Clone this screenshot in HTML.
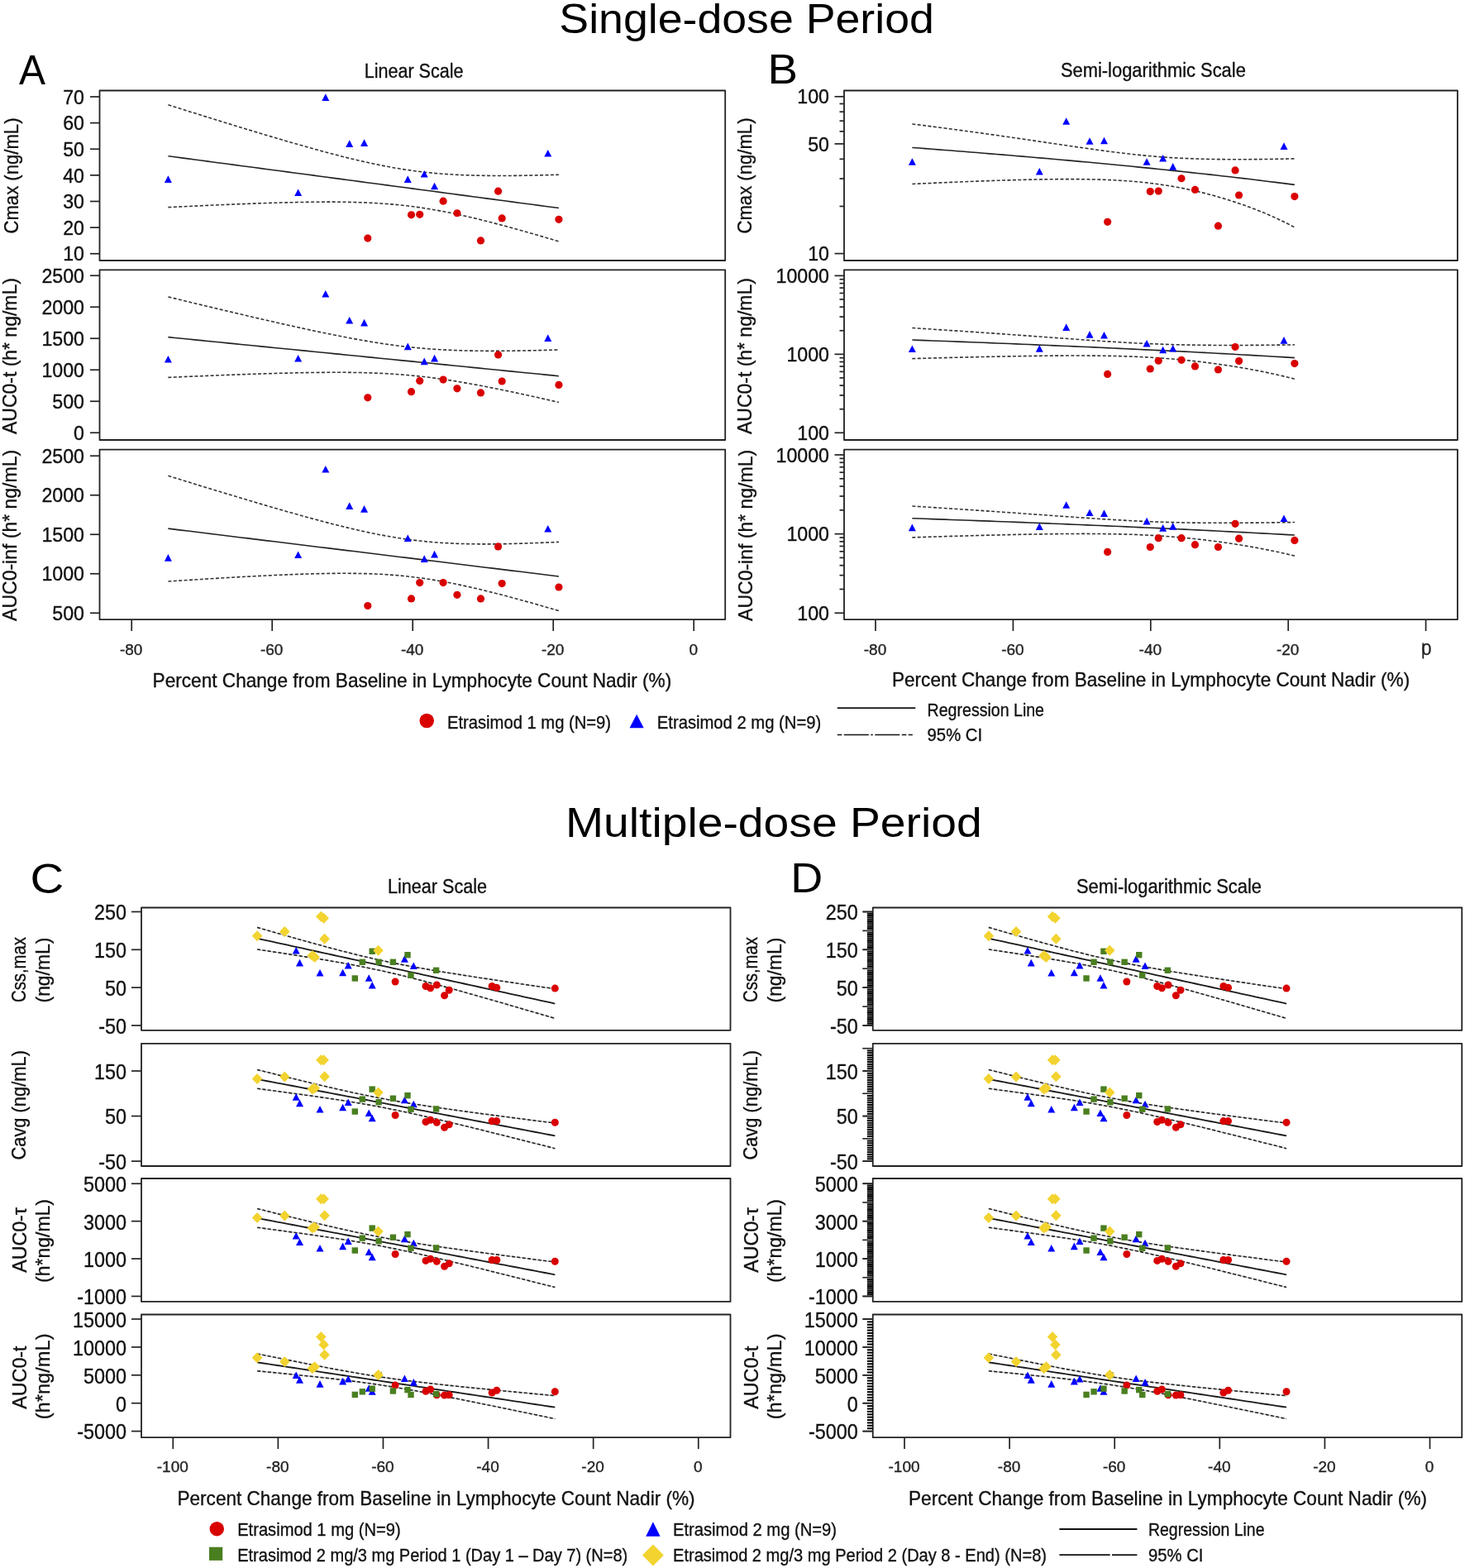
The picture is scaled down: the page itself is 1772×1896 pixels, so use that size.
<!DOCTYPE html>
<html><head><meta charset="utf-8"><title>Etrasimod exposure vs lymphocyte count</title>
<style>
html,body{margin:0;padding:0;background:#fff;}
body{width:1772px;height:1896px;overflow:hidden;}
svg{display:block;}
</style></head>
<body>
<svg width="1772" height="1896" viewBox="0 0 1772 1896" font-family="'Liberation Sans', Arial, sans-serif">
<rect width="1772" height="1896" fill="#fff"/>
<text x="903.1" y="39.9" font-size="50.5" text-anchor="middle" fill="#000" textLength="453.5" lengthAdjust="spacingAndGlyphs">Single-dose Period</text>
<text x="935.9" y="1012.4" font-size="50.5" text-anchor="middle" fill="#000" textLength="503.6" lengthAdjust="spacingAndGlyphs">Multiple-dose Period</text>
<text x="23.0" y="102.0" font-size="49.5" text-anchor="start" fill="#000" textLength="32.0" lengthAdjust="spacingAndGlyphs">A</text>
<text x="928.6" y="101.3" font-size="49.5" text-anchor="start" fill="#000" textLength="36.5" lengthAdjust="spacingAndGlyphs">B</text>
<text x="36.6" y="1080.0" font-size="49.5" text-anchor="start" fill="#000" textLength="40.8" lengthAdjust="spacingAndGlyphs">C</text>
<text x="956.3" y="1078.5" font-size="49.5" text-anchor="start" fill="#000" textLength="39.0" lengthAdjust="spacingAndGlyphs">D</text>
<text x="500.6" y="93.9" font-size="23" text-anchor="middle" fill="#111" textLength="119.8" lengthAdjust="spacingAndGlyphs" stroke="#111" stroke-width="0.35">Linear Scale</text>
<text x="1394.9" y="92.8" font-size="23" text-anchor="middle" fill="#111" textLength="223.9" lengthAdjust="spacingAndGlyphs" stroke="#111" stroke-width="0.35">Semi-logarithmic Scale</text>
<text x="529.0" y="1080.0" font-size="23" text-anchor="middle" fill="#111" textLength="120.0" lengthAdjust="spacingAndGlyphs" stroke="#111" stroke-width="0.35">Linear Scale</text>
<text x="1414.0" y="1080.0" font-size="23" text-anchor="middle" fill="#111" textLength="224.0" lengthAdjust="spacingAndGlyphs" stroke="#111" stroke-width="0.35">Semi-logarithmic Scale</text>
<rect x="120.50" y="109.50" width="756.70" height="205.50" fill="none" stroke="#222" stroke-width="1.8" stroke-linejoin="round"/>
<line x1="109.00" y1="117.00" x2="120.50" y2="117.00" stroke="#222" stroke-width="1.7"/>
<text x="102.0" y="125.6" font-size="24" text-anchor="end" fill="#111" textLength="25.8" lengthAdjust="spacingAndGlyphs" stroke="#111" stroke-width="0.35">70</text>
<line x1="109.00" y1="148.62" x2="120.50" y2="148.62" stroke="#222" stroke-width="1.7"/>
<text x="102.0" y="157.2" font-size="24" text-anchor="end" fill="#111" textLength="25.8" lengthAdjust="spacingAndGlyphs" stroke="#111" stroke-width="0.35">60</text>
<line x1="109.00" y1="180.25" x2="120.50" y2="180.25" stroke="#222" stroke-width="1.7"/>
<text x="102.0" y="188.8" font-size="24" text-anchor="end" fill="#111" textLength="25.8" lengthAdjust="spacingAndGlyphs" stroke="#111" stroke-width="0.35">50</text>
<line x1="109.00" y1="211.88" x2="120.50" y2="211.88" stroke="#222" stroke-width="1.7"/>
<text x="102.0" y="220.5" font-size="24" text-anchor="end" fill="#111" textLength="25.8" lengthAdjust="spacingAndGlyphs" stroke="#111" stroke-width="0.35">40</text>
<line x1="109.00" y1="243.50" x2="120.50" y2="243.50" stroke="#222" stroke-width="1.7"/>
<text x="102.0" y="252.1" font-size="24" text-anchor="end" fill="#111" textLength="25.8" lengthAdjust="spacingAndGlyphs" stroke="#111" stroke-width="0.35">30</text>
<line x1="109.00" y1="275.12" x2="120.50" y2="275.12" stroke="#222" stroke-width="1.7"/>
<text x="102.0" y="283.7" font-size="24" text-anchor="end" fill="#111" textLength="25.8" lengthAdjust="spacingAndGlyphs" stroke="#111" stroke-width="0.35">20</text>
<line x1="109.00" y1="306.75" x2="120.50" y2="306.75" stroke="#222" stroke-width="1.7"/>
<text x="102.0" y="315.4" font-size="24" text-anchor="end" fill="#111" textLength="25.8" lengthAdjust="spacingAndGlyphs" stroke="#111" stroke-width="0.35">10</text>
<polyline points="203.40,126.76 211.41,129.29 219.42,131.81 227.43,134.32 235.43,136.83 243.44,139.33 251.45,141.83 259.46,144.31 267.47,146.79 275.48,149.26 283.49,151.72 291.50,154.17 299.50,156.61 307.51,159.04 315.52,161.45 323.53,163.85 331.54,166.23 339.55,168.59 347.56,170.93 355.57,173.25 363.57,175.54 371.58,177.81 379.59,180.04 387.60,182.24 395.61,184.40 403.62,186.52 411.63,188.59 419.64,190.61 427.64,192.57 435.65,194.46 443.66,196.28 451.67,198.02 459.68,199.68 467.69,201.25 475.70,202.71 483.71,204.07 491.71,205.33 499.72,206.47 507.73,207.50 515.74,208.42 523.75,209.23 531.76,209.93 539.77,210.53 547.78,211.04 555.78,211.46 563.79,211.80 571.80,212.06 579.81,212.26 587.82,212.39 595.83,212.47 603.84,212.50 611.85,212.48 619.85,212.43 627.86,212.34 635.87,212.21 643.88,212.06 651.89,211.88 659.90,211.68 667.91,211.46 675.92,211.22" fill="none" stroke="#333" stroke-width="1.6" stroke-dasharray="4 2.4"/>
<polyline points="203.40,250.66 211.41,250.27 219.42,249.88 227.43,249.50 235.43,249.12 243.44,248.75 251.45,248.38 259.46,248.03 267.47,247.68 275.48,247.34 283.49,247.01 291.50,246.69 299.50,246.38 307.51,246.08 315.52,245.80 323.53,245.54 331.54,245.29 339.55,245.06 347.56,244.85 355.57,244.66 363.57,244.50 371.58,244.36 379.59,244.26 387.60,244.19 395.61,244.16 403.62,244.17 411.63,244.23 419.64,244.34 427.64,244.52 435.65,244.75 443.66,245.06 451.67,245.45 459.68,245.93 467.69,246.49 475.70,247.16 483.71,247.92 491.71,248.80 499.72,249.79 507.73,250.89 515.74,252.10 523.75,253.42 531.76,254.85 539.77,256.38 547.78,258.00 555.78,259.71 563.79,261.51 571.80,263.37 579.81,265.31 587.82,267.31 595.83,269.36 603.84,271.46 611.85,273.60 619.85,275.79 627.86,278.01 635.87,280.27 643.88,282.55 651.89,284.86 659.90,287.19 667.91,289.54 675.92,291.92" fill="none" stroke="#333" stroke-width="1.6" stroke-dasharray="4 2.4"/>
<polyline points="203.40,188.71 211.41,189.78 219.42,190.84 227.43,191.91 235.43,192.97 243.44,194.04 251.45,195.10 259.46,196.17 267.47,197.24 275.48,198.30 283.49,199.37 291.50,200.43 299.50,201.50 307.51,202.56 315.52,203.63 323.53,204.69 331.54,205.76 339.55,206.82 347.56,207.89 355.57,208.95 363.57,210.02 371.58,211.08 379.59,212.15 387.60,213.21 395.61,214.28 403.62,215.35 411.63,216.41 419.64,217.48 427.64,218.54 435.65,219.61 443.66,220.67 451.67,221.74 459.68,222.80 467.69,223.87 475.70,224.93 483.71,226.00 491.71,227.06 499.72,228.13 507.73,229.19 515.74,230.26 523.75,231.33 531.76,232.39 539.77,233.46 547.78,234.52 555.78,235.59 563.79,236.65 571.80,237.72 579.81,238.78 587.82,239.85 595.83,240.91 603.84,241.98 611.85,243.04 619.85,244.11 627.86,245.17 635.87,246.24 643.88,247.31 651.89,248.37 659.90,249.44 667.91,250.50 675.92,251.57" fill="none" stroke="#222" stroke-width="1.6"/>
<circle cx="444.80" cy="288.09" r="4.60" fill="#d90000"/>
<circle cx="497.50" cy="259.79" r="4.60" fill="#d90000"/>
<circle cx="507.70" cy="259.31" r="4.60" fill="#d90000"/>
<circle cx="536.09" cy="243.18" r="4.60" fill="#d90000"/>
<circle cx="552.92" cy="257.73" r="4.60" fill="#d90000"/>
<circle cx="581.48" cy="290.94" r="4.60" fill="#d90000"/>
<circle cx="602.56" cy="231.17" r="4.60" fill="#d90000"/>
<circle cx="607.15" cy="263.90" r="4.60" fill="#d90000"/>
<circle cx="675.92" cy="265.32" r="4.60" fill="#d90000"/>
<polygon points="203.40,212.32 207.90,220.92 198.90,220.92" fill="#0000ff"/>
<polygon points="360.65,228.45 365.15,237.05 356.15,237.05" fill="#0000ff"/>
<polygon points="393.80,113.33 398.30,121.93 389.30,121.93" fill="#0000ff"/>
<polygon points="422.70,169.31 427.20,177.91 418.20,177.91" fill="#0000ff"/>
<polygon points="440.55,168.36 445.05,176.96 436.05,176.96" fill="#0000ff"/>
<polygon points="493.25,212.32 497.75,220.92 488.75,220.92" fill="#0000ff"/>
<polygon points="513.23,205.99 517.73,214.59 508.73,214.59" fill="#0000ff"/>
<polygon points="525.55,220.70 530.05,229.30 521.05,229.30" fill="#0000ff"/>
<polygon points="662.74,181.01 667.24,189.61 658.24,189.61" fill="#0000ff"/>
<text transform="translate(22.0,212.5) rotate(-90)" x="0" y="0" font-size="24" text-anchor="middle" fill="#111" textLength="140.0" lengthAdjust="spacingAndGlyphs" stroke="#111" stroke-width="0.35">Cmax (ng/mL)</text>
<rect x="1021.00" y="109.50" width="742.00" height="205.50" fill="none" stroke="#222" stroke-width="1.8" stroke-linejoin="round"/>
<line x1="1009.50" y1="306.60" x2="1021.00" y2="306.60" stroke="#222" stroke-width="1.7"/>
<line x1="1015.50" y1="249.46" x2="1021.00" y2="249.46" stroke="#222" stroke-width="1.7"/>
<line x1="1015.50" y1="216.04" x2="1021.00" y2="216.04" stroke="#222" stroke-width="1.7"/>
<line x1="1015.50" y1="192.33" x2="1021.00" y2="192.33" stroke="#222" stroke-width="1.7"/>
<line x1="1009.50" y1="173.94" x2="1021.00" y2="173.94" stroke="#222" stroke-width="1.7"/>
<line x1="1015.50" y1="158.91" x2="1021.00" y2="158.91" stroke="#222" stroke-width="1.7"/>
<line x1="1015.50" y1="146.20" x2="1021.00" y2="146.20" stroke="#222" stroke-width="1.7"/>
<line x1="1015.50" y1="135.19" x2="1021.00" y2="135.19" stroke="#222" stroke-width="1.7"/>
<line x1="1015.50" y1="125.48" x2="1021.00" y2="125.48" stroke="#222" stroke-width="1.7"/>
<line x1="1009.50" y1="116.80" x2="1021.00" y2="116.80" stroke="#222" stroke-width="1.7"/>
<text x="1003.0" y="125.4" font-size="24" text-anchor="end" fill="#111" textLength="38.7" lengthAdjust="spacingAndGlyphs" stroke="#111" stroke-width="0.35">100</text>
<text x="1003.0" y="182.5" font-size="24" text-anchor="end" fill="#111" textLength="25.8" lengthAdjust="spacingAndGlyphs" stroke="#111" stroke-width="0.35">50</text>
<text x="1003.0" y="315.2" font-size="24" text-anchor="end" fill="#111" textLength="25.8" lengthAdjust="spacingAndGlyphs" stroke="#111" stroke-width="0.35">10</text>
<polyline points="1103.36,149.92 1111.20,150.91 1119.04,151.91 1126.88,152.92 1134.72,153.94 1142.56,154.97 1150.40,156.01 1158.24,157.06 1166.08,158.11 1173.92,159.18 1181.76,160.26 1189.59,161.35 1197.43,162.45 1205.27,163.56 1213.11,164.68 1220.95,165.80 1228.79,166.93 1236.63,168.07 1244.47,169.21 1252.31,170.36 1260.15,171.52 1267.99,172.67 1275.82,173.83 1283.66,174.98 1291.50,176.13 1299.34,177.27 1307.18,178.40 1315.02,179.52 1322.86,180.62 1330.70,181.70 1338.54,182.75 1346.38,183.76 1354.22,184.74 1362.06,185.68 1369.89,186.56 1377.73,187.40 1385.57,188.17 1393.41,188.88 1401.25,189.53 1409.09,190.11 1416.93,190.62 1424.77,191.07 1432.61,191.46 1440.45,191.79 1448.29,192.06 1456.12,192.28 1463.96,192.45 1471.80,192.58 1479.64,192.67 1487.48,192.72 1495.32,192.74 1503.16,192.73 1511.00,192.69 1518.84,192.63 1526.68,192.55 1534.52,192.45 1542.36,192.33 1550.19,192.20 1558.03,192.06 1565.87,191.90" fill="none" stroke="#333" stroke-width="1.6" stroke-dasharray="4 2.4"/>
<polyline points="1103.36,222.51 1111.20,222.14 1119.04,221.78 1126.88,221.42 1134.72,221.07 1142.56,220.73 1150.40,220.40 1158.24,220.07 1166.08,219.75 1173.92,219.45 1181.76,219.15 1189.59,218.86 1197.43,218.58 1205.27,218.32 1213.11,218.07 1220.95,217.83 1228.79,217.61 1236.63,217.41 1244.47,217.22 1252.31,217.06 1260.15,216.91 1267.99,216.79 1275.82,216.70 1283.66,216.64 1291.50,216.62 1299.34,216.63 1307.18,216.68 1315.02,216.78 1322.86,216.93 1330.70,217.14 1338.54,217.41 1346.38,217.76 1354.22,218.18 1362.06,218.68 1369.89,219.28 1377.73,219.98 1385.57,220.78 1393.41,221.70 1401.25,222.73 1409.09,223.88 1416.93,225.15 1424.77,226.55 1432.61,228.07 1440.45,229.72 1448.29,231.49 1456.12,233.39 1463.96,235.42 1471.80,237.57 1479.64,239.86 1487.48,242.27 1495.32,244.82 1503.16,247.51 1511.00,250.34 1518.84,253.31 1526.68,256.45 1534.52,259.76 1542.36,263.24 1550.19,266.91 1558.03,270.79 1565.87,274.90" fill="none" stroke="#333" stroke-width="1.6" stroke-dasharray="4 2.4"/>
<polyline points="1103.36,178.47 1111.20,179.06 1119.04,179.65 1126.88,180.25 1134.72,180.85 1142.56,181.46 1150.40,182.07 1158.24,182.68 1166.08,183.30 1173.92,183.93 1181.76,184.56 1189.59,185.19 1197.43,185.83 1205.27,186.47 1213.11,187.12 1220.95,187.78 1228.79,188.44 1236.63,189.10 1244.47,189.77 1252.31,190.45 1260.15,191.13 1267.99,191.82 1275.82,192.51 1283.66,193.21 1291.50,193.91 1299.34,194.62 1307.18,195.34 1315.02,196.06 1322.86,196.79 1330.70,197.53 1338.54,198.27 1346.38,199.02 1354.22,199.78 1362.06,200.54 1369.89,201.31 1377.73,202.09 1385.57,202.87 1393.41,203.67 1401.25,204.47 1409.09,205.27 1416.93,206.09 1424.77,206.92 1432.61,207.75 1440.45,208.59 1448.29,209.44 1456.12,210.30 1463.96,211.17 1471.80,212.04 1479.64,212.93 1487.48,213.83 1495.32,214.73 1503.16,215.65 1511.00,216.57 1518.84,217.51 1526.68,218.46 1534.52,219.42 1542.36,220.39 1550.19,221.37 1558.03,222.36 1565.87,223.37" fill="none" stroke="#222" stroke-width="1.6"/>
<circle cx="1339.65" cy="268.37" r="4.60" fill="#d90000"/>
<circle cx="1391.24" cy="231.57" r="4.60" fill="#d90000"/>
<circle cx="1401.22" cy="231.07" r="4.60" fill="#d90000"/>
<circle cx="1429.01" cy="215.77" r="4.60" fill="#d90000"/>
<circle cx="1445.48" cy="229.44" r="4.60" fill="#d90000"/>
<circle cx="1473.44" cy="273.18" r="4.60" fill="#d90000"/>
<circle cx="1494.07" cy="205.97" r="4.60" fill="#d90000"/>
<circle cx="1498.56" cy="236.00" r="4.60" fill="#d90000"/>
<circle cx="1565.87" cy="237.59" r="4.60" fill="#d90000"/>
<polygon points="1103.36,191.18 1107.86,199.78 1098.86,199.78" fill="#0000ff"/>
<polygon points="1257.28,202.89 1261.78,211.49 1252.78,211.49" fill="#0000ff"/>
<polygon points="1289.73,142.14 1294.23,150.74 1285.23,150.74" fill="#0000ff"/>
<polygon points="1318.02,166.24 1322.52,174.84 1313.52,174.84" fill="#0000ff"/>
<polygon points="1335.49,165.77 1339.99,174.37 1330.99,174.37" fill="#0000ff"/>
<polygon points="1387.08,191.18 1391.58,199.78 1382.58,199.78" fill="#0000ff"/>
<polygon points="1406.63,187.01 1411.13,195.61 1402.13,195.61" fill="#0000ff"/>
<polygon points="1418.69,197.06 1423.19,205.66 1414.19,205.66" fill="#0000ff"/>
<polygon points="1552.98,172.32 1557.48,180.92 1548.48,180.92" fill="#0000ff"/>
<text transform="translate(908.5,212.5) rotate(-90)" x="0" y="0" font-size="24" text-anchor="middle" fill="#111" textLength="140.0" lengthAdjust="spacingAndGlyphs" stroke="#111" stroke-width="0.35">Cmax (ng/mL)</text>
<rect x="120.50" y="326.30" width="756.70" height="205.70" fill="none" stroke="#222" stroke-width="1.8" stroke-linejoin="round"/>
<line x1="109.00" y1="333.25" x2="120.50" y2="333.25" stroke="#222" stroke-width="1.7"/>
<text x="102.0" y="341.9" font-size="24" text-anchor="end" fill="#111" textLength="51.6" lengthAdjust="spacingAndGlyphs" stroke="#111" stroke-width="0.35">2500</text>
<line x1="109.00" y1="371.25" x2="120.50" y2="371.25" stroke="#222" stroke-width="1.7"/>
<text x="102.0" y="379.9" font-size="24" text-anchor="end" fill="#111" textLength="51.6" lengthAdjust="spacingAndGlyphs" stroke="#111" stroke-width="0.35">2000</text>
<line x1="109.00" y1="409.25" x2="120.50" y2="409.25" stroke="#222" stroke-width="1.7"/>
<text x="102.0" y="417.9" font-size="24" text-anchor="end" fill="#111" textLength="51.6" lengthAdjust="spacingAndGlyphs" stroke="#111" stroke-width="0.35">1500</text>
<line x1="109.00" y1="447.25" x2="120.50" y2="447.25" stroke="#222" stroke-width="1.7"/>
<text x="102.0" y="455.9" font-size="24" text-anchor="end" fill="#111" textLength="51.6" lengthAdjust="spacingAndGlyphs" stroke="#111" stroke-width="0.35">1000</text>
<line x1="109.00" y1="485.25" x2="120.50" y2="485.25" stroke="#222" stroke-width="1.7"/>
<text x="102.0" y="493.9" font-size="24" text-anchor="end" fill="#111" textLength="38.7" lengthAdjust="spacingAndGlyphs" stroke="#111" stroke-width="0.35">500</text>
<line x1="109.00" y1="523.25" x2="120.50" y2="523.25" stroke="#222" stroke-width="1.7"/>
<text x="102.0" y="531.9" font-size="24" text-anchor="end" fill="#111" textLength="12.9" lengthAdjust="spacingAndGlyphs" stroke="#111" stroke-width="0.35">0</text>
<polyline points="203.40,358.95 211.41,360.89 219.42,362.84 227.43,364.77 235.43,366.70 243.44,368.63 251.45,370.55 259.46,372.47 267.47,374.38 275.48,376.28 283.49,378.18 291.50,380.06 299.50,381.94 307.51,383.81 315.52,385.66 323.53,387.51 331.54,389.34 339.55,391.15 347.56,392.96 355.57,394.74 363.57,396.50 371.58,398.24 379.59,399.96 387.60,401.65 395.61,403.31 403.62,404.93 411.63,406.52 419.64,408.07 427.64,409.57 435.65,411.01 443.66,412.41 451.67,413.74 459.68,415.00 467.69,416.19 475.70,417.30 483.71,418.33 491.71,419.28 499.72,420.13 507.73,420.90 515.74,421.59 523.75,422.18 531.76,422.69 539.77,423.13 547.78,423.48 555.78,423.77 563.79,424.00 571.80,424.17 579.81,424.28 587.82,424.34 595.83,424.37 603.84,424.35 611.85,424.30 619.85,424.21 627.86,424.10 635.87,423.96 643.88,423.80 651.89,423.62 659.90,423.42 667.91,423.20 675.92,422.97" fill="none" stroke="#333" stroke-width="1.6" stroke-dasharray="4 2.4"/>
<polyline points="203.40,456.40 211.41,456.05 219.42,455.70 227.43,455.36 235.43,455.02 243.44,454.69 251.45,454.36 259.46,454.04 267.47,453.72 275.48,453.42 283.49,453.12 291.50,452.82 299.50,452.54 307.51,452.27 315.52,452.01 323.53,451.76 331.54,451.52 339.55,451.30 347.56,451.09 355.57,450.90 363.57,450.73 371.58,450.59 379.59,450.47 387.60,450.37 395.61,450.31 403.62,450.28 411.63,450.28 419.64,450.33 427.64,450.43 435.65,450.57 443.66,450.77 451.67,451.04 459.68,451.37 467.69,451.77 475.70,452.26 483.71,452.82 491.71,453.47 499.72,454.21 507.73,455.03 515.74,455.94 523.75,456.94 531.76,458.03 539.77,459.19 547.78,460.42 555.78,461.73 563.79,463.10 571.80,464.52 579.81,466.01 587.82,467.54 595.83,469.11 603.84,470.72 611.85,472.37 619.85,474.04 627.86,475.75 635.87,477.48 643.88,479.24 651.89,481.01 659.90,482.81 667.91,484.62 675.92,486.45" fill="none" stroke="#333" stroke-width="1.6" stroke-dasharray="4 2.4"/>
<polyline points="203.40,407.67 211.41,408.47 219.42,409.27 227.43,410.07 235.43,410.86 243.44,411.66 251.45,412.46 259.46,413.25 267.47,414.05 275.48,414.85 283.49,415.65 291.50,416.44 299.50,417.24 307.51,418.04 315.52,418.83 323.53,419.63 331.54,420.43 339.55,421.23 347.56,422.02 355.57,422.82 363.57,423.62 371.58,424.41 379.59,425.21 387.60,426.01 395.61,426.81 403.62,427.60 411.63,428.40 419.64,429.20 427.64,430.00 435.65,430.79 443.66,431.59 451.67,432.39 459.68,433.18 467.69,433.98 475.70,434.78 483.71,435.58 491.71,436.37 499.72,437.17 507.73,437.97 515.74,438.76 523.75,439.56 531.76,440.36 539.77,441.16 547.78,441.95 555.78,442.75 563.79,443.55 571.80,444.35 579.81,445.14 587.82,445.94 595.83,446.74 603.84,447.53 611.85,448.33 619.85,449.13 627.86,449.93 635.87,450.72 643.88,451.52 651.89,452.32 659.90,453.11 667.91,453.91 675.92,454.71" fill="none" stroke="#222" stroke-width="1.6"/>
<circle cx="444.80" cy="480.84" r="4.60" fill="#d90000"/>
<circle cx="497.50" cy="473.70" r="4.60" fill="#d90000"/>
<circle cx="507.70" cy="460.47" r="4.60" fill="#d90000"/>
<circle cx="536.09" cy="459.11" r="4.60" fill="#d90000"/>
<circle cx="552.92" cy="469.82" r="4.60" fill="#d90000"/>
<circle cx="581.48" cy="474.91" r="4.60" fill="#d90000"/>
<circle cx="602.56" cy="429.01" r="4.60" fill="#d90000"/>
<circle cx="607.15" cy="461.01" r="4.60" fill="#d90000"/>
<circle cx="675.92" cy="465.41" r="4.60" fill="#d90000"/>
<polygon points="203.40,429.88 207.90,438.48 198.90,438.48" fill="#0000ff"/>
<polygon points="360.65,428.89 365.15,437.49 356.15,437.49" fill="#0000ff"/>
<polygon points="393.80,350.91 398.30,359.51 389.30,359.51" fill="#0000ff"/>
<polygon points="422.70,382.91 427.20,391.51 418.20,391.51" fill="#0000ff"/>
<polygon points="440.55,385.87 445.05,394.47 436.05,394.47" fill="#0000ff"/>
<polygon points="493.25,414.60 497.75,423.20 488.75,423.20" fill="#0000ff"/>
<polygon points="513.23,432.54 517.73,441.14 508.73,441.14" fill="#0000ff"/>
<polygon points="525.55,428.81 530.05,437.41 521.05,437.41" fill="#0000ff"/>
<polygon points="662.74,404.34 667.24,412.94 658.24,412.94" fill="#0000ff"/>
<text transform="translate(20.0,430.6) rotate(-90)" x="0" y="0" font-size="24" text-anchor="middle" fill="#111" textLength="188.8" lengthAdjust="spacingAndGlyphs" stroke="#111" stroke-width="0.35">AUC0-t (h* ng/mL)</text>
<rect x="1021.00" y="326.30" width="742.00" height="205.70" fill="none" stroke="#222" stroke-width="1.8" stroke-linejoin="round"/>
<line x1="1009.50" y1="523.30" x2="1021.00" y2="523.30" stroke="#222" stroke-width="1.7"/>
<line x1="1015.50" y1="494.72" x2="1021.00" y2="494.72" stroke="#222" stroke-width="1.7"/>
<line x1="1015.50" y1="478.00" x2="1021.00" y2="478.00" stroke="#222" stroke-width="1.7"/>
<line x1="1015.50" y1="466.13" x2="1021.00" y2="466.13" stroke="#222" stroke-width="1.7"/>
<line x1="1015.50" y1="456.93" x2="1021.00" y2="456.93" stroke="#222" stroke-width="1.7"/>
<line x1="1015.50" y1="449.41" x2="1021.00" y2="449.41" stroke="#222" stroke-width="1.7"/>
<line x1="1015.50" y1="443.06" x2="1021.00" y2="443.06" stroke="#222" stroke-width="1.7"/>
<line x1="1015.50" y1="437.55" x2="1021.00" y2="437.55" stroke="#222" stroke-width="1.7"/>
<line x1="1015.50" y1="432.69" x2="1021.00" y2="432.69" stroke="#222" stroke-width="1.7"/>
<line x1="1009.50" y1="428.35" x2="1021.00" y2="428.35" stroke="#222" stroke-width="1.7"/>
<line x1="1015.50" y1="399.77" x2="1021.00" y2="399.77" stroke="#222" stroke-width="1.7"/>
<line x1="1015.50" y1="383.05" x2="1021.00" y2="383.05" stroke="#222" stroke-width="1.7"/>
<line x1="1015.50" y1="371.18" x2="1021.00" y2="371.18" stroke="#222" stroke-width="1.7"/>
<line x1="1015.50" y1="361.98" x2="1021.00" y2="361.98" stroke="#222" stroke-width="1.7"/>
<line x1="1015.50" y1="354.46" x2="1021.00" y2="354.46" stroke="#222" stroke-width="1.7"/>
<line x1="1015.50" y1="348.11" x2="1021.00" y2="348.11" stroke="#222" stroke-width="1.7"/>
<line x1="1015.50" y1="342.60" x2="1021.00" y2="342.60" stroke="#222" stroke-width="1.7"/>
<line x1="1015.50" y1="337.74" x2="1021.00" y2="337.74" stroke="#222" stroke-width="1.7"/>
<line x1="1009.50" y1="333.40" x2="1021.00" y2="333.40" stroke="#222" stroke-width="1.7"/>
<text x="1003.0" y="342.0" font-size="24" text-anchor="end" fill="#111" textLength="64.5" lengthAdjust="spacingAndGlyphs" stroke="#111" stroke-width="0.35">10000</text>
<text x="1003.0" y="436.9" font-size="24" text-anchor="end" fill="#111" textLength="51.6" lengthAdjust="spacingAndGlyphs" stroke="#111" stroke-width="0.35">1000</text>
<text x="1003.0" y="531.9" font-size="24" text-anchor="end" fill="#111" textLength="38.7" lengthAdjust="spacingAndGlyphs" stroke="#111" stroke-width="0.35">100</text>
<polyline points="1103.36,396.56 1111.20,397.05 1119.04,397.55 1126.88,398.05 1134.72,398.55 1142.56,399.06 1150.40,399.58 1158.24,400.10 1166.08,400.62 1173.92,401.16 1181.76,401.69 1189.59,402.23 1197.43,402.77 1205.27,403.32 1213.11,403.88 1220.95,404.43 1228.79,404.99 1236.63,405.55 1244.47,406.12 1252.31,406.69 1260.15,407.26 1267.99,407.83 1275.82,408.40 1283.66,408.97 1291.50,409.53 1299.34,410.10 1307.18,410.65 1315.02,411.20 1322.86,411.74 1330.70,412.27 1338.54,412.79 1346.38,413.29 1354.22,413.76 1362.06,414.22 1369.89,414.65 1377.73,415.05 1385.57,415.43 1393.41,415.77 1401.25,416.08 1409.09,416.35 1416.93,416.59 1424.77,416.80 1432.61,416.98 1440.45,417.13 1448.29,417.25 1456.12,417.34 1463.96,417.41 1471.80,417.46 1479.64,417.49 1487.48,417.50 1495.32,417.49 1503.16,417.47 1511.00,417.43 1518.84,417.38 1526.68,417.33 1534.52,417.26 1542.36,417.19 1550.19,417.10 1558.03,417.01 1565.87,416.92" fill="none" stroke="#333" stroke-width="1.6" stroke-dasharray="4 2.4"/>
<polyline points="1103.36,433.64 1111.20,433.42 1119.04,433.21 1126.88,433.00 1134.72,432.80 1142.56,432.60 1150.40,432.40 1158.24,432.21 1166.08,432.02 1173.92,431.84 1181.76,431.66 1189.59,431.49 1197.43,431.33 1205.27,431.17 1213.11,431.02 1220.95,430.87 1228.79,430.73 1236.63,430.61 1244.47,430.49 1252.31,430.38 1260.15,430.29 1267.99,430.20 1275.82,430.13 1283.66,430.08 1291.50,430.04 1299.34,430.03 1307.18,430.03 1315.02,430.06 1322.86,430.11 1330.70,430.19 1338.54,430.31 1346.38,430.46 1354.22,430.65 1362.06,430.88 1369.89,431.16 1377.73,431.49 1385.57,431.87 1393.41,432.31 1401.25,432.80 1409.09,433.36 1416.93,433.98 1424.77,434.65 1432.61,435.40 1440.45,436.20 1448.29,437.06 1456.12,437.99 1463.96,438.98 1471.80,440.04 1479.64,441.15 1487.48,442.33 1495.32,443.58 1503.16,444.89 1511.00,446.28 1518.84,447.73 1526.68,449.26 1534.52,450.88 1542.36,452.58 1550.19,454.36 1558.03,456.25 1565.87,458.25" fill="none" stroke="#333" stroke-width="1.6" stroke-dasharray="4 2.4"/>
<polyline points="1103.36,411.06 1111.20,411.35 1119.04,411.64 1126.88,411.93 1134.72,412.22 1142.56,412.51 1150.40,412.81 1158.24,413.10 1166.08,413.40 1173.92,413.71 1181.76,414.01 1189.59,414.32 1197.43,414.63 1205.27,414.94 1213.11,415.25 1220.95,415.57 1228.79,415.89 1236.63,416.21 1244.47,416.53 1252.31,416.86 1260.15,417.19 1267.99,417.52 1275.82,417.85 1283.66,418.19 1291.50,418.53 1299.34,418.87 1307.18,419.21 1315.02,419.56 1322.86,419.91 1330.70,420.27 1338.54,420.62 1346.38,420.98 1354.22,421.35 1362.06,421.71 1369.89,422.08 1377.73,422.46 1385.57,422.83 1393.41,423.21 1401.25,423.60 1409.09,423.99 1416.93,424.38 1424.77,424.77 1432.61,425.17 1440.45,425.57 1448.29,425.98 1456.12,426.39 1463.96,426.80 1471.80,427.22 1479.64,427.64 1487.48,428.07 1495.32,428.50 1503.16,428.94 1511.00,429.38 1518.84,429.83 1526.68,430.28 1534.52,430.73 1542.36,431.20 1550.19,431.66 1558.03,432.13 1565.87,432.61" fill="none" stroke="#222" stroke-width="1.6"/>
<circle cx="1339.65" cy="452.41" r="4.60" fill="#d90000"/>
<circle cx="1391.24" cy="445.99" r="4.60" fill="#d90000"/>
<circle cx="1401.22" cy="436.23" r="4.60" fill="#d90000"/>
<circle cx="1429.01" cy="435.34" r="4.60" fill="#d90000"/>
<circle cx="1445.48" cy="442.88" r="4.60" fill="#d90000"/>
<circle cx="1473.44" cy="447.01" r="4.60" fill="#d90000"/>
<circle cx="1494.07" cy="419.48" r="4.60" fill="#d90000"/>
<circle cx="1498.56" cy="436.58" r="4.60" fill="#d90000"/>
<circle cx="1565.87" cy="439.61" r="4.60" fill="#d90000"/>
<polygon points="1103.36,417.51 1107.86,426.11 1098.86,426.11" fill="#0000ff"/>
<polygon points="1257.28,417.05 1261.78,425.65 1252.78,425.65" fill="#0000ff"/>
<polygon points="1289.73,391.33 1294.23,399.93 1285.23,399.93" fill="#0000ff"/>
<polygon points="1318.02,400.04 1322.52,408.64 1313.52,408.64" fill="#0000ff"/>
<polygon points="1335.49,400.95 1339.99,409.55 1330.99,409.55" fill="#0000ff"/>
<polygon points="1387.08,410.98 1391.58,419.58 1382.58,419.58" fill="#0000ff"/>
<polygon points="1406.63,418.76 1411.13,427.36 1402.13,427.36" fill="#0000ff"/>
<polygon points="1418.69,417.02 1423.19,425.62 1414.19,425.62" fill="#0000ff"/>
<polygon points="1552.98,407.11 1557.48,415.71 1548.48,415.71" fill="#0000ff"/>
<text transform="translate(908.5,430.6) rotate(-90)" x="0" y="0" font-size="24" text-anchor="middle" fill="#111" textLength="188.8" lengthAdjust="spacingAndGlyphs" stroke="#111" stroke-width="0.35">AUC0-t (h* ng/mL)</text>
<rect x="120.50" y="543.60" width="756.70" height="205.50" fill="none" stroke="#222" stroke-width="1.8" stroke-linejoin="round"/>
<line x1="109.00" y1="551.25" x2="120.50" y2="551.25" stroke="#222" stroke-width="1.7"/>
<text x="102.0" y="559.9" font-size="24" text-anchor="end" fill="#111" textLength="51.6" lengthAdjust="spacingAndGlyphs" stroke="#111" stroke-width="0.35">2500</text>
<line x1="109.00" y1="598.75" x2="120.50" y2="598.75" stroke="#222" stroke-width="1.7"/>
<text x="102.0" y="607.4" font-size="24" text-anchor="end" fill="#111" textLength="51.6" lengthAdjust="spacingAndGlyphs" stroke="#111" stroke-width="0.35">2000</text>
<line x1="109.00" y1="646.25" x2="120.50" y2="646.25" stroke="#222" stroke-width="1.7"/>
<text x="102.0" y="654.9" font-size="24" text-anchor="end" fill="#111" textLength="51.6" lengthAdjust="spacingAndGlyphs" stroke="#111" stroke-width="0.35">1500</text>
<line x1="109.00" y1="693.75" x2="120.50" y2="693.75" stroke="#222" stroke-width="1.7"/>
<text x="102.0" y="702.4" font-size="24" text-anchor="end" fill="#111" textLength="51.6" lengthAdjust="spacingAndGlyphs" stroke="#111" stroke-width="0.35">1000</text>
<line x1="109.00" y1="741.25" x2="120.50" y2="741.25" stroke="#222" stroke-width="1.7"/>
<text x="102.0" y="749.9" font-size="24" text-anchor="end" fill="#111" textLength="38.7" lengthAdjust="spacingAndGlyphs" stroke="#111" stroke-width="0.35">500</text>
<polyline points="203.40,575.29 211.41,577.77 219.42,580.25 227.43,582.72 235.43,585.19 243.44,587.65 251.45,590.10 259.46,592.55 267.47,594.99 275.48,597.41 283.49,599.83 291.50,602.24 299.50,604.63 307.51,607.02 315.52,609.38 323.53,611.74 331.54,614.07 339.55,616.39 347.56,618.68 355.57,620.95 363.57,623.20 371.58,625.41 379.59,627.60 387.60,629.75 395.61,631.86 403.62,633.92 411.63,635.94 419.64,637.90 427.64,639.80 435.65,641.63 443.66,643.39 451.67,645.07 459.68,646.66 467.69,648.15 475.70,649.55 483.71,650.83 491.71,652.01 499.72,653.06 507.73,654.01 515.74,654.84 523.75,655.55 531.76,656.16 539.77,656.66 547.78,657.07 555.78,657.38 563.79,657.61 571.80,657.76 579.81,657.85 587.82,657.87 595.83,657.83 603.84,657.74 611.85,657.61 619.85,657.43 627.86,657.22 635.87,656.98 643.88,656.70 651.89,656.40 659.90,656.07 667.91,655.72 675.92,655.35" fill="none" stroke="#333" stroke-width="1.6" stroke-dasharray="4 2.4"/>
<polyline points="203.40,702.99 211.41,702.47 219.42,701.95 227.43,701.44 235.43,700.93 243.44,700.43 251.45,699.93 259.46,699.45 267.47,698.97 275.48,698.50 283.49,698.04 291.50,697.59 299.50,697.16 307.51,696.74 315.52,696.33 323.53,695.94 331.54,695.56 339.55,695.20 347.56,694.87 355.57,694.56 363.57,694.27 371.58,694.01 379.59,693.79 387.60,693.60 395.61,693.45 403.62,693.34 411.63,693.29 419.64,693.29 427.64,693.35 435.65,693.47 443.66,693.67 451.67,693.95 459.68,694.32 467.69,694.79 475.70,695.36 483.71,696.03 491.71,696.82 499.72,697.72 507.73,698.73 515.74,699.86 523.75,701.11 531.76,702.46 539.77,703.92 547.78,705.47 555.78,707.12 563.79,708.85 571.80,710.65 579.81,712.53 587.82,714.47 595.83,716.46 603.84,718.51 611.85,720.60 619.85,722.74 627.86,724.91 635.87,727.12 643.88,729.35 651.89,731.61 659.90,733.90 667.91,736.21 675.92,738.53" fill="none" stroke="#333" stroke-width="1.6" stroke-dasharray="4 2.4"/>
<polyline points="203.40,639.14 211.41,640.12 219.42,641.10 227.43,642.08 235.43,643.06 243.44,644.04 251.45,645.02 259.46,646.00 267.47,646.98 275.48,647.96 283.49,648.94 291.50,649.92 299.50,650.90 307.51,651.88 315.52,652.86 323.53,653.84 331.54,654.82 339.55,655.80 347.56,656.78 355.57,657.75 363.57,658.73 371.58,659.71 379.59,660.69 387.60,661.67 395.61,662.65 403.62,663.63 411.63,664.61 419.64,665.59 427.64,666.57 435.65,667.55 443.66,668.53 451.67,669.51 459.68,670.49 467.69,671.47 475.70,672.45 483.71,673.43 491.71,674.41 499.72,675.39 507.73,676.37 515.74,677.35 523.75,678.33 531.76,679.31 539.77,680.29 547.78,681.27 555.78,682.25 563.79,683.23 571.80,684.21 579.81,685.19 587.82,686.17 595.83,687.15 603.84,688.13 611.85,689.11 619.85,690.09 627.86,691.07 635.87,692.05 643.88,693.03 651.89,694.01 659.90,694.98 667.91,695.96 675.92,696.94" fill="none" stroke="#222" stroke-width="1.6"/>
<circle cx="444.80" cy="732.51" r="4.60" fill="#d90000"/>
<circle cx="497.50" cy="723.96" r="4.60" fill="#d90000"/>
<circle cx="507.70" cy="704.58" r="4.60" fill="#d90000"/>
<circle cx="536.09" cy="704.58" r="4.60" fill="#d90000"/>
<circle cx="552.92" cy="719.31" r="4.60" fill="#d90000"/>
<circle cx="581.48" cy="723.96" r="4.60" fill="#d90000"/>
<circle cx="602.56" cy="660.88" r="4.60" fill="#d90000"/>
<circle cx="607.15" cy="705.62" r="4.60" fill="#d90000"/>
<circle cx="675.92" cy="710.00" r="4.60" fill="#d90000"/>
<polygon points="203.40,670.07 207.90,678.67 198.90,678.67" fill="#0000ff"/>
<polygon points="360.65,666.46 365.15,675.06 356.15,675.06" fill="#0000ff"/>
<polygon points="393.80,563.00 398.30,571.60 389.30,571.60" fill="#0000ff"/>
<polygon points="422.70,607.28 427.20,615.88 418.20,615.88" fill="#0000ff"/>
<polygon points="440.55,611.08 445.05,619.67 436.05,619.67" fill="#0000ff"/>
<polygon points="493.25,646.32 497.75,654.92 488.75,654.92" fill="#0000ff"/>
<polygon points="513.23,671.31 517.73,679.90 508.73,679.90" fill="#0000ff"/>
<polygon points="525.55,665.80 530.05,674.39 521.05,674.39" fill="#0000ff"/>
<polygon points="662.74,634.92 667.24,643.52 658.24,643.52" fill="#0000ff"/>
<text transform="translate(20.0,647.4) rotate(-90)" x="0" y="0" font-size="24" text-anchor="middle" fill="#111" textLength="207.0" lengthAdjust="spacingAndGlyphs" stroke="#111" stroke-width="0.35">AUC0-inf (h* ng/mL)</text>
<rect x="1021.00" y="543.60" width="742.00" height="205.50" fill="none" stroke="#222" stroke-width="1.8" stroke-linejoin="round"/>
<line x1="1009.50" y1="741.25" x2="1021.00" y2="741.25" stroke="#222" stroke-width="1.7"/>
<line x1="1015.50" y1="712.46" x2="1021.00" y2="712.46" stroke="#222" stroke-width="1.7"/>
<line x1="1015.50" y1="695.63" x2="1021.00" y2="695.63" stroke="#222" stroke-width="1.7"/>
<line x1="1015.50" y1="683.68" x2="1021.00" y2="683.68" stroke="#222" stroke-width="1.7"/>
<line x1="1015.50" y1="674.41" x2="1021.00" y2="674.41" stroke="#222" stroke-width="1.7"/>
<line x1="1015.50" y1="666.84" x2="1021.00" y2="666.84" stroke="#222" stroke-width="1.7"/>
<line x1="1015.50" y1="660.44" x2="1021.00" y2="660.44" stroke="#222" stroke-width="1.7"/>
<line x1="1015.50" y1="654.89" x2="1021.00" y2="654.89" stroke="#222" stroke-width="1.7"/>
<line x1="1015.50" y1="650.00" x2="1021.00" y2="650.00" stroke="#222" stroke-width="1.7"/>
<line x1="1009.50" y1="645.62" x2="1021.00" y2="645.62" stroke="#222" stroke-width="1.7"/>
<line x1="1015.50" y1="616.84" x2="1021.00" y2="616.84" stroke="#222" stroke-width="1.7"/>
<line x1="1015.50" y1="600.00" x2="1021.00" y2="600.00" stroke="#222" stroke-width="1.7"/>
<line x1="1015.50" y1="588.05" x2="1021.00" y2="588.05" stroke="#222" stroke-width="1.7"/>
<line x1="1015.50" y1="578.79" x2="1021.00" y2="578.79" stroke="#222" stroke-width="1.7"/>
<line x1="1015.50" y1="571.21" x2="1021.00" y2="571.21" stroke="#222" stroke-width="1.7"/>
<line x1="1015.50" y1="564.81" x2="1021.00" y2="564.81" stroke="#222" stroke-width="1.7"/>
<line x1="1015.50" y1="559.27" x2="1021.00" y2="559.27" stroke="#222" stroke-width="1.7"/>
<line x1="1015.50" y1="554.38" x2="1021.00" y2="554.38" stroke="#222" stroke-width="1.7"/>
<line x1="1009.50" y1="550.00" x2="1021.00" y2="550.00" stroke="#222" stroke-width="1.7"/>
<text x="1003.0" y="558.6" font-size="24" text-anchor="end" fill="#111" textLength="64.5" lengthAdjust="spacingAndGlyphs" stroke="#111" stroke-width="0.35">10000</text>
<text x="1003.0" y="654.2" font-size="24" text-anchor="end" fill="#111" textLength="51.6" lengthAdjust="spacingAndGlyphs" stroke="#111" stroke-width="0.35">1000</text>
<text x="1003.0" y="749.9" font-size="24" text-anchor="end" fill="#111" textLength="38.7" lengthAdjust="spacingAndGlyphs" stroke="#111" stroke-width="0.35">100</text>
<polyline points="1103.36,612.00 1111.20,612.49 1119.04,612.98 1126.88,613.48 1134.72,613.98 1142.56,614.48 1150.40,614.99 1158.24,615.51 1166.08,616.02 1173.92,616.55 1181.76,617.08 1189.59,617.61 1197.43,618.15 1205.27,618.69 1213.11,619.23 1220.95,619.78 1228.79,620.33 1236.63,620.88 1244.47,621.44 1252.31,622.00 1260.15,622.56 1267.99,623.12 1275.82,623.68 1283.66,624.24 1291.50,624.79 1299.34,625.34 1307.18,625.88 1315.02,626.42 1322.86,626.95 1330.70,627.46 1338.54,627.96 1346.38,628.44 1354.22,628.91 1362.06,629.34 1369.89,629.76 1377.73,630.14 1385.57,630.50 1393.41,630.82 1401.25,631.11 1409.09,631.37 1416.93,631.59 1424.77,631.78 1432.61,631.94 1440.45,632.06 1448.29,632.16 1456.12,632.24 1463.96,632.28 1471.80,632.31 1479.64,632.32 1487.48,632.31 1495.32,632.28 1503.16,632.24 1511.00,632.18 1518.84,632.11 1526.68,632.04 1534.52,631.95 1542.36,631.85 1550.19,631.75 1558.03,631.64 1565.87,631.53" fill="none" stroke="#333" stroke-width="1.6" stroke-dasharray="4 2.4"/>
<polyline points="1103.36,649.88 1111.20,649.62 1119.04,649.37 1126.88,649.13 1134.72,648.89 1142.56,648.65 1150.40,648.42 1158.24,648.19 1166.08,647.97 1173.92,647.76 1181.76,647.54 1189.59,647.34 1197.43,647.14 1205.27,646.95 1213.11,646.77 1220.95,646.59 1228.79,646.42 1236.63,646.27 1244.47,646.12 1252.31,645.98 1260.15,645.85 1267.99,645.74 1275.82,645.64 1283.66,645.56 1291.50,645.49 1299.34,645.45 1307.18,645.42 1315.02,645.42 1322.86,645.45 1330.70,645.50 1338.54,645.59 1346.38,645.71 1354.22,645.88 1362.06,646.08 1369.89,646.33 1377.73,646.63 1385.57,646.99 1393.41,647.40 1401.25,647.86 1409.09,648.39 1416.93,648.97 1424.77,649.62 1432.61,650.33 1440.45,651.09 1448.29,651.92 1456.12,652.81 1463.96,653.76 1471.80,654.77 1479.64,655.84 1487.48,656.97 1495.32,658.17 1503.16,659.42 1511.00,660.74 1518.84,662.13 1526.68,663.59 1534.52,665.13 1542.36,666.74 1550.19,668.44 1558.03,670.22 1565.87,672.10" fill="none" stroke="#333" stroke-width="1.6" stroke-dasharray="4 2.4"/>
<polyline points="1103.36,626.76 1111.20,627.04 1119.04,627.31 1126.88,627.59 1134.72,627.87 1142.56,628.15 1150.40,628.43 1158.24,628.71 1166.08,629.00 1173.92,629.29 1181.76,629.58 1189.59,629.87 1197.43,630.16 1205.27,630.46 1213.11,630.76 1220.95,631.06 1228.79,631.36 1236.63,631.67 1244.47,631.97 1252.31,632.28 1260.15,632.59 1267.99,632.91 1275.82,633.22 1283.66,633.54 1291.50,633.87 1299.34,634.19 1307.18,634.52 1315.02,634.84 1322.86,635.18 1330.70,635.51 1338.54,635.85 1346.38,636.19 1354.22,636.53 1362.06,636.88 1369.89,637.22 1377.73,637.58 1385.57,637.93 1393.41,638.29 1401.25,638.65 1409.09,639.01 1416.93,639.38 1424.77,639.75 1432.61,640.12 1440.45,640.50 1448.29,640.88 1456.12,641.26 1463.96,641.65 1471.80,642.04 1479.64,642.44 1487.48,642.83 1495.32,643.24 1503.16,643.64 1511.00,644.05 1518.84,644.47 1526.68,644.89 1534.52,645.31 1542.36,645.74 1550.19,646.17 1558.03,646.60 1565.87,647.05" fill="none" stroke="#222" stroke-width="1.6"/>
<circle cx="1339.65" cy="667.40" r="4.60" fill="#d90000"/>
<circle cx="1391.24" cy="661.52" r="4.60" fill="#d90000"/>
<circle cx="1401.22" cy="650.65" r="4.60" fill="#d90000"/>
<circle cx="1429.01" cy="650.65" r="4.60" fill="#d90000"/>
<circle cx="1445.48" cy="658.64" r="4.60" fill="#d90000"/>
<circle cx="1473.44" cy="661.52" r="4.60" fill="#d90000"/>
<circle cx="1494.07" cy="633.29" r="4.60" fill="#d90000"/>
<circle cx="1498.56" cy="651.17" r="4.60" fill="#d90000"/>
<circle cx="1565.87" cy="653.41" r="4.60" fill="#d90000"/>
<polygon points="1103.36,633.62 1107.86,642.22 1098.86,642.22" fill="#0000ff"/>
<polygon points="1257.28,632.32 1261.78,640.92 1252.78,640.92" fill="#0000ff"/>
<polygon points="1289.73,606.18 1294.23,614.78 1285.23,614.78" fill="#0000ff"/>
<polygon points="1318.02,615.44 1322.52,624.04 1313.52,624.04" fill="#0000ff"/>
<polygon points="1335.49,616.34 1339.99,624.94 1330.99,624.94" fill="#0000ff"/>
<polygon points="1387.08,625.78 1391.58,634.38 1382.58,634.38" fill="#0000ff"/>
<polygon points="1406.63,634.07 1411.13,642.67 1402.13,642.67" fill="#0000ff"/>
<polygon points="1418.69,632.09 1423.19,640.69 1414.19,640.69" fill="#0000ff"/>
<polygon points="1552.98,622.49 1557.48,631.09 1548.48,631.09" fill="#0000ff"/>
<text transform="translate(909.5,647.4) rotate(-90)" x="0" y="0" font-size="24" text-anchor="middle" fill="#111" textLength="207.0" lengthAdjust="spacingAndGlyphs" stroke="#111" stroke-width="0.35">AUC0-inf (h* ng/mL)</text>
<line x1="159.20" y1="749.50" x2="159.20" y2="763.00" stroke="#222" stroke-width="1.7"/>
<text x="158.7" y="791.6" font-size="19" text-anchor="middle" fill="#222" stroke="#222" stroke-width="0.35">-80</text>
<line x1="1059.00" y1="749.50" x2="1059.00" y2="763.00" stroke="#222" stroke-width="1.7"/>
<text x="1058.5" y="791.6" font-size="19" text-anchor="middle" fill="#222" stroke="#222" stroke-width="0.35">-80</text>
<line x1="329.20" y1="749.50" x2="329.20" y2="763.00" stroke="#222" stroke-width="1.7"/>
<text x="328.7" y="791.6" font-size="19" text-anchor="middle" fill="#222" stroke="#222" stroke-width="0.35">-60</text>
<line x1="1225.40" y1="749.50" x2="1225.40" y2="763.00" stroke="#222" stroke-width="1.7"/>
<text x="1224.9" y="791.6" font-size="19" text-anchor="middle" fill="#222" stroke="#222" stroke-width="0.35">-60</text>
<line x1="499.20" y1="749.50" x2="499.20" y2="763.00" stroke="#222" stroke-width="1.7"/>
<text x="498.7" y="791.6" font-size="19" text-anchor="middle" fill="#222" stroke="#222" stroke-width="0.35">-40</text>
<line x1="1391.80" y1="749.50" x2="1391.80" y2="763.00" stroke="#222" stroke-width="1.7"/>
<text x="1391.3" y="791.6" font-size="19" text-anchor="middle" fill="#222" stroke="#222" stroke-width="0.35">-40</text>
<line x1="669.20" y1="749.50" x2="669.20" y2="763.00" stroke="#222" stroke-width="1.7"/>
<text x="668.7" y="791.6" font-size="19" text-anchor="middle" fill="#222" stroke="#222" stroke-width="0.35">-20</text>
<line x1="1558.20" y1="749.50" x2="1558.20" y2="763.00" stroke="#222" stroke-width="1.7"/>
<text x="1557.7" y="791.6" font-size="19" text-anchor="middle" fill="#222" stroke="#222" stroke-width="0.35">-20</text>
<line x1="839.20" y1="749.50" x2="839.20" y2="763.00" stroke="#222" stroke-width="1.7"/>
<text x="838.7" y="791.6" font-size="19" text-anchor="middle" fill="#222" stroke="#222" stroke-width="0.35">0</text>
<line x1="1724.60" y1="749.50" x2="1724.60" y2="763.00" stroke="#222" stroke-width="1.7"/>
<text x="1725.6" y="792.0" font-size="21" text-anchor="middle" fill="#222" stroke="#222" stroke-width="0.35">0</text>
<line x1="1721.30" y1="777.50" x2="1721.30" y2="796.50" stroke="#222" stroke-width="1.9"/>
<text x="184.6" y="831.1" font-size="23.6" text-anchor="start" fill="#111" textLength="627.6" lengthAdjust="spacingAndGlyphs" stroke="#111" stroke-width="0.35">Percent Change from Baseline in Lymphocyte Count Nadir (%)</text>
<text x="1079.0" y="829.5" font-size="23.6" text-anchor="start" fill="#111" textLength="626.2" lengthAdjust="spacingAndGlyphs" stroke="#111" stroke-width="0.35">Percent Change from Baseline in Lymphocyte Count Nadir (%)</text>
<circle cx="516.20" cy="871.50" r="8.75" fill="#d90000"/>
<text x="541.0" y="880.6" font-size="22.3" text-anchor="start" fill="#111" textLength="198.0" lengthAdjust="spacingAndGlyphs" stroke="#111" stroke-width="0.35">Etrasimod 1 mg (N=9)</text>
<polygon points="770.10,863.70 778.70,880.30 761.50,880.30" fill="#0000ff"/>
<text x="794.8" y="880.9" font-size="22.3" text-anchor="start" fill="#111" textLength="198.4" lengthAdjust="spacingAndGlyphs" stroke="#111" stroke-width="0.35">Etrasimod 2 mg (N=9)</text>
<line x1="1012.80" y1="856.10" x2="1107.30" y2="856.10" stroke="#111" stroke-width="1.7"/>
<text x="1121.6" y="866.0" font-size="22.3" text-anchor="start" fill="#111" textLength="141.4" lengthAdjust="spacingAndGlyphs" stroke="#111" stroke-width="0.35">Regression Line</text>
<line x1="1012.8" y1="888.5" x2="1107.3" y2="888.5" stroke="#111" stroke-width="1.7" stroke-dasharray="5.5 2.5 30 2.5 2.5 2.5 30 2.5 5.5 2.5 5"/>
<text x="1121.6" y="895.9" font-size="22.3" text-anchor="start" fill="#111" textLength="66.5" lengthAdjust="spacingAndGlyphs" stroke="#111" stroke-width="0.35">95% CI</text>
<rect x="171.00" y="1097.50" width="712.50" height="148.30" fill="none" stroke="#222" stroke-width="1.8" stroke-linejoin="round"/>
<line x1="159.00" y1="1102.50" x2="171.00" y2="1102.50" stroke="#222" stroke-width="1.7"/>
<text x="153.0" y="1112.3" font-size="26" text-anchor="end" fill="#111" textLength="39.0" lengthAdjust="spacingAndGlyphs" stroke="#111" stroke-width="0.35">250</text>
<line x1="159.00" y1="1148.33" x2="171.00" y2="1148.33" stroke="#222" stroke-width="1.7"/>
<text x="153.0" y="1158.1" font-size="26" text-anchor="end" fill="#111" textLength="39.0" lengthAdjust="spacingAndGlyphs" stroke="#111" stroke-width="0.35">150</text>
<line x1="159.00" y1="1194.16" x2="171.00" y2="1194.16" stroke="#222" stroke-width="1.7"/>
<text x="153.0" y="1204.0" font-size="26" text-anchor="end" fill="#111" textLength="26.0" lengthAdjust="spacingAndGlyphs" stroke="#111" stroke-width="0.35">50</text>
<line x1="159.00" y1="1239.99" x2="171.00" y2="1239.99" stroke="#222" stroke-width="1.7"/>
<text x="153.0" y="1249.8" font-size="26" text-anchor="end" fill="#111" textLength="33.8" lengthAdjust="spacingAndGlyphs" stroke="#111" stroke-width="0.35">-50</text>
<polyline points="311.10,1121.39 317.21,1123.15 323.31,1124.91 329.42,1126.66 335.52,1128.41 341.63,1130.15 347.73,1131.89 353.84,1133.62 359.94,1135.34 366.05,1137.05 372.15,1138.75 378.26,1140.44 384.36,1142.12 390.47,1143.78 396.57,1145.43 402.68,1147.06 408.78,1148.67 414.89,1150.25 420.99,1151.82 427.10,1153.35 433.20,1154.86 439.31,1156.33 445.41,1157.77 451.52,1159.18 457.62,1160.55 463.73,1161.88 469.83,1163.17 475.94,1164.43 482.04,1165.65 488.15,1166.84 494.25,1168.00 500.36,1169.13 506.46,1170.23 512.57,1171.31 518.67,1172.37 524.78,1173.41 530.88,1174.43 536.99,1175.44 543.09,1176.43 549.20,1177.41 555.30,1178.38 561.41,1179.34 567.51,1180.29 573.62,1181.23 579.72,1182.17 585.83,1183.10 591.93,1184.02 598.04,1184.94 604.14,1185.86 610.25,1186.77 616.35,1187.68 622.46,1188.58 628.56,1189.48 634.67,1190.38 640.77,1191.27 646.88,1192.17 652.98,1193.06 659.09,1193.95 665.19,1194.83 671.30,1195.72" fill="none" stroke="#cfcfcf" stroke-width="1.5"/>
<polyline points="311.10,1147.99 317.21,1148.90 323.31,1149.82 329.42,1150.74 335.52,1151.66 341.63,1152.60 347.73,1153.53 353.84,1154.48 359.94,1155.43 366.05,1156.40 372.15,1157.37 378.26,1158.35 384.36,1159.35 390.47,1160.36 396.57,1161.38 402.68,1162.43 408.78,1163.49 414.89,1164.58 420.99,1165.69 427.10,1166.82 433.20,1167.99 439.31,1169.19 445.41,1170.42 451.52,1171.69 457.62,1173.00 463.73,1174.34 469.83,1175.72 475.94,1177.13 482.04,1178.58 488.15,1180.07 494.25,1181.58 500.36,1183.13 506.46,1184.70 512.57,1186.29 518.67,1187.91 524.78,1189.55 530.88,1191.20 536.99,1192.87 543.09,1194.55 549.20,1196.24 555.30,1197.94 561.41,1199.66 567.51,1201.38 573.62,1203.11 579.72,1204.85 585.83,1206.59 591.93,1208.34 598.04,1210.09 604.14,1211.85 610.25,1213.61 616.35,1215.38 622.46,1217.15 628.56,1218.92 634.67,1220.70 640.77,1222.48 646.88,1224.26 652.98,1226.04 659.09,1227.82 665.19,1229.61 671.30,1231.40" fill="none" stroke="#cfcfcf" stroke-width="1.5"/>
<polyline points="311.10,1121.39 317.21,1123.15 323.31,1124.91 329.42,1126.66 335.52,1128.41 341.63,1130.15 347.73,1131.89 353.84,1133.62 359.94,1135.34 366.05,1137.05 372.15,1138.75 378.26,1140.44 384.36,1142.12 390.47,1143.78 396.57,1145.43 402.68,1147.06 408.78,1148.67 414.89,1150.25 420.99,1151.82 427.10,1153.35 433.20,1154.86 439.31,1156.33 445.41,1157.77 451.52,1159.18 457.62,1160.55 463.73,1161.88 469.83,1163.17 475.94,1164.43 482.04,1165.65 488.15,1166.84 494.25,1168.00 500.36,1169.13 506.46,1170.23 512.57,1171.31 518.67,1172.37 524.78,1173.41 530.88,1174.43 536.99,1175.44 543.09,1176.43 549.20,1177.41 555.30,1178.38 561.41,1179.34 567.51,1180.29 573.62,1181.23 579.72,1182.17 585.83,1183.10 591.93,1184.02 598.04,1184.94 604.14,1185.86 610.25,1186.77 616.35,1187.68 622.46,1188.58 628.56,1189.48 634.67,1190.38 640.77,1191.27 646.88,1192.17 652.98,1193.06 659.09,1193.95 665.19,1194.83 671.30,1195.72" fill="none" stroke="#222" stroke-width="1.6" stroke-dasharray="4 2.4"/>
<polyline points="311.10,1147.99 317.21,1148.90 323.31,1149.82 329.42,1150.74 335.52,1151.66 341.63,1152.60 347.73,1153.53 353.84,1154.48 359.94,1155.43 366.05,1156.40 372.15,1157.37 378.26,1158.35 384.36,1159.35 390.47,1160.36 396.57,1161.38 402.68,1162.43 408.78,1163.49 414.89,1164.58 420.99,1165.69 427.10,1166.82 433.20,1167.99 439.31,1169.19 445.41,1170.42 451.52,1171.69 457.62,1173.00 463.73,1174.34 469.83,1175.72 475.94,1177.13 482.04,1178.58 488.15,1180.07 494.25,1181.58 500.36,1183.13 506.46,1184.70 512.57,1186.29 518.67,1187.91 524.78,1189.55 530.88,1191.20 536.99,1192.87 543.09,1194.55 549.20,1196.24 555.30,1197.94 561.41,1199.66 567.51,1201.38 573.62,1203.11 579.72,1204.85 585.83,1206.59 591.93,1208.34 598.04,1210.09 604.14,1211.85 610.25,1213.61 616.35,1215.38 622.46,1217.15 628.56,1218.92 634.67,1220.70 640.77,1222.48 646.88,1224.26 652.98,1226.04 659.09,1227.82 665.19,1229.61 671.30,1231.40" fill="none" stroke="#222" stroke-width="1.6" stroke-dasharray="4 2.4"/>
<polyline points="311.10,1134.69 317.21,1136.03 323.31,1137.36 329.42,1138.70 335.52,1140.04 341.63,1141.37 347.73,1142.71 353.84,1144.05 359.94,1145.38 366.05,1146.72 372.15,1148.06 378.26,1149.39 384.36,1150.73 390.47,1152.07 396.57,1153.40 402.68,1154.74 408.78,1156.08 414.89,1157.42 420.99,1158.75 427.10,1160.09 433.20,1161.43 439.31,1162.76 445.41,1164.10 451.52,1165.44 457.62,1166.77 463.73,1168.11 469.83,1169.45 475.94,1170.78 482.04,1172.12 488.15,1173.46 494.25,1174.79 500.36,1176.13 506.46,1177.47 512.57,1178.80 518.67,1180.14 524.78,1181.48 530.88,1182.81 536.99,1184.15 543.09,1185.49 549.20,1186.82 555.30,1188.16 561.41,1189.50 567.51,1190.83 573.62,1192.17 579.72,1193.51 585.83,1194.84 591.93,1196.18 598.04,1197.52 604.14,1198.85 610.25,1200.19 616.35,1201.53 622.46,1202.86 628.56,1204.20 634.67,1205.54 640.77,1206.87 646.88,1208.21 652.98,1209.55 659.09,1210.89 665.19,1212.22 671.30,1213.56" fill="none" stroke="#1a1a1a" stroke-width="1.85"/>
<circle cx="478.10" cy="1187.00" r="4.50" fill="#d90000"/>
<circle cx="515.00" cy="1192.50" r="4.50" fill="#d90000"/>
<circle cx="520.60" cy="1194.70" r="4.50" fill="#d90000"/>
<circle cx="528.30" cy="1191.00" r="4.50" fill="#d90000"/>
<circle cx="537.60" cy="1203.80" r="4.50" fill="#d90000"/>
<circle cx="543.20" cy="1197.20" r="4.50" fill="#d90000"/>
<circle cx="595.10" cy="1192.50" r="4.50" fill="#d90000"/>
<circle cx="600.80" cy="1194.20" r="4.50" fill="#d90000"/>
<circle cx="671.30" cy="1195.10" r="4.50" fill="#d90000"/>
<polygon points="358.20,1144.90 362.70,1153.50 353.70,1153.50" fill="#0000ff"/>
<polygon points="362.50,1159.80 367.00,1168.40 358.00,1168.40" fill="#0000ff"/>
<polygon points="387.00,1172.00 391.50,1180.60 382.50,1180.60" fill="#0000ff"/>
<polygon points="414.60,1171.70 419.10,1180.30 410.10,1180.30" fill="#0000ff"/>
<polygon points="421.20,1162.90 425.70,1171.50 416.70,1171.50" fill="#0000ff"/>
<polygon points="446.20,1178.20 450.70,1186.80 441.70,1186.80" fill="#0000ff"/>
<polygon points="450.20,1187.00 454.70,1195.60 445.70,1195.60" fill="#0000ff"/>
<polygon points="489.40,1155.10 493.90,1163.70 484.90,1163.70" fill="#0000ff"/>
<polygon points="500.30,1163.40 504.80,1172.00 495.80,1172.00" fill="#0000ff"/>
<rect x="425.60" y="1179.30" width="7.40" height="7.40" fill="#4a7f20"/>
<rect x="434.60" y="1159.60" width="7.40" height="7.40" fill="#4a7f20"/>
<rect x="446.50" y="1146.60" width="7.40" height="7.40" fill="#4a7f20"/>
<rect x="454.40" y="1159.60" width="7.40" height="7.40" fill="#4a7f20"/>
<rect x="471.70" y="1159.60" width="7.40" height="7.40" fill="#4a7f20"/>
<rect x="489.30" y="1151.00" width="7.40" height="7.40" fill="#4a7f20"/>
<rect x="493.30" y="1175.60" width="7.40" height="7.40" fill="#4a7f20"/>
<rect x="523.90" y="1169.60" width="7.40" height="7.40" fill="#4a7f20"/>
<polygon points="311.10,1125.20 317.40,1131.70 311.10,1138.20 304.80,1131.70" fill="#f2d32f"/>
<polygon points="344.30,1119.90 350.60,1126.40 344.30,1132.90 338.00,1126.40" fill="#f2d32f"/>
<polygon points="388.30,1101.80 394.60,1108.30 388.30,1114.80 382.00,1108.30" fill="#f2d32f"/>
<polygon points="391.60,1103.70 397.90,1110.20 391.60,1116.70 385.30,1110.20" fill="#f2d32f"/>
<polygon points="392.60,1128.80 398.90,1135.30 392.60,1141.80 386.30,1135.30" fill="#f2d32f"/>
<polygon points="377.80,1148.90 384.10,1155.40 377.80,1161.90 371.50,1155.40" fill="#f2d32f"/>
<polygon points="380.70,1151.10 387.00,1157.60 380.70,1164.10 374.40,1157.60" fill="#f2d32f"/>
<polygon points="457.50,1142.70 463.80,1149.20 457.50,1155.70 451.20,1149.20" fill="#f2d32f"/>
<text transform="translate(31.0,1172.5) rotate(-90)" x="0" y="0" font-size="24" text-anchor="middle" fill="#111" textLength="79.0" lengthAdjust="spacingAndGlyphs" stroke="#111" stroke-width="0.35">Css,max</text>
<text transform="translate(59.5,1173.1) rotate(-90)" x="0" y="0" font-size="24" text-anchor="middle" fill="#111" textLength="78.8" lengthAdjust="spacingAndGlyphs" stroke="#111" stroke-width="0.35">(ng/mL)</text>
<rect x="1055.75" y="1097.50" width="712.50" height="148.30" fill="none" stroke="#222" stroke-width="1.8" stroke-linejoin="round"/>
<line x1="1043.25" y1="1239.99" x2="1055.75" y2="1239.99" stroke="#222" stroke-width="1.6"/>
<line x1="1048.85" y1="1237.70" x2="1055.75" y2="1237.70" stroke="#000" stroke-width="2.0"/>
<line x1="1048.85" y1="1235.41" x2="1055.75" y2="1235.41" stroke="#000" stroke-width="2.0"/>
<line x1="1048.85" y1="1233.12" x2="1055.75" y2="1233.12" stroke="#000" stroke-width="2.0"/>
<line x1="1048.85" y1="1230.82" x2="1055.75" y2="1230.82" stroke="#000" stroke-width="2.0"/>
<line x1="1048.85" y1="1228.53" x2="1055.75" y2="1228.53" stroke="#000" stroke-width="2.0"/>
<line x1="1048.85" y1="1226.24" x2="1055.75" y2="1226.24" stroke="#000" stroke-width="2.0"/>
<line x1="1048.85" y1="1223.95" x2="1055.75" y2="1223.95" stroke="#000" stroke-width="2.0"/>
<line x1="1048.85" y1="1221.66" x2="1055.75" y2="1221.66" stroke="#000" stroke-width="2.0"/>
<line x1="1048.85" y1="1219.37" x2="1055.75" y2="1219.37" stroke="#000" stroke-width="2.0"/>
<line x1="1043.25" y1="1217.08" x2="1055.75" y2="1217.08" stroke="#222" stroke-width="1.6"/>
<line x1="1048.85" y1="1214.78" x2="1055.75" y2="1214.78" stroke="#000" stroke-width="2.0"/>
<line x1="1048.85" y1="1212.49" x2="1055.75" y2="1212.49" stroke="#000" stroke-width="2.0"/>
<line x1="1048.85" y1="1210.20" x2="1055.75" y2="1210.20" stroke="#000" stroke-width="2.0"/>
<line x1="1048.85" y1="1207.91" x2="1055.75" y2="1207.91" stroke="#000" stroke-width="2.0"/>
<line x1="1048.85" y1="1205.62" x2="1055.75" y2="1205.62" stroke="#000" stroke-width="2.0"/>
<line x1="1048.85" y1="1203.33" x2="1055.75" y2="1203.33" stroke="#000" stroke-width="2.0"/>
<line x1="1048.85" y1="1201.03" x2="1055.75" y2="1201.03" stroke="#000" stroke-width="2.0"/>
<line x1="1048.85" y1="1198.74" x2="1055.75" y2="1198.74" stroke="#000" stroke-width="2.0"/>
<line x1="1048.85" y1="1196.45" x2="1055.75" y2="1196.45" stroke="#000" stroke-width="2.0"/>
<line x1="1043.25" y1="1194.16" x2="1055.75" y2="1194.16" stroke="#222" stroke-width="1.6"/>
<line x1="1048.85" y1="1191.87" x2="1055.75" y2="1191.87" stroke="#000" stroke-width="2.0"/>
<line x1="1048.85" y1="1189.58" x2="1055.75" y2="1189.58" stroke="#000" stroke-width="2.0"/>
<line x1="1048.85" y1="1187.29" x2="1055.75" y2="1187.29" stroke="#000" stroke-width="2.0"/>
<line x1="1048.85" y1="1184.99" x2="1055.75" y2="1184.99" stroke="#000" stroke-width="2.0"/>
<line x1="1048.85" y1="1182.70" x2="1055.75" y2="1182.70" stroke="#000" stroke-width="2.0"/>
<line x1="1048.85" y1="1180.41" x2="1055.75" y2="1180.41" stroke="#000" stroke-width="2.0"/>
<line x1="1048.85" y1="1178.12" x2="1055.75" y2="1178.12" stroke="#000" stroke-width="2.0"/>
<line x1="1048.85" y1="1175.83" x2="1055.75" y2="1175.83" stroke="#000" stroke-width="2.0"/>
<line x1="1048.85" y1="1173.54" x2="1055.75" y2="1173.54" stroke="#000" stroke-width="2.0"/>
<line x1="1043.25" y1="1171.24" x2="1055.75" y2="1171.24" stroke="#222" stroke-width="1.6"/>
<line x1="1048.85" y1="1168.95" x2="1055.75" y2="1168.95" stroke="#000" stroke-width="2.0"/>
<line x1="1048.85" y1="1166.66" x2="1055.75" y2="1166.66" stroke="#000" stroke-width="2.0"/>
<line x1="1048.85" y1="1164.37" x2="1055.75" y2="1164.37" stroke="#000" stroke-width="2.0"/>
<line x1="1048.85" y1="1162.08" x2="1055.75" y2="1162.08" stroke="#000" stroke-width="2.0"/>
<line x1="1048.85" y1="1159.79" x2="1055.75" y2="1159.79" stroke="#000" stroke-width="2.0"/>
<line x1="1048.85" y1="1157.50" x2="1055.75" y2="1157.50" stroke="#000" stroke-width="2.0"/>
<line x1="1048.85" y1="1155.20" x2="1055.75" y2="1155.20" stroke="#000" stroke-width="2.0"/>
<line x1="1048.85" y1="1152.91" x2="1055.75" y2="1152.91" stroke="#000" stroke-width="2.0"/>
<line x1="1048.85" y1="1150.62" x2="1055.75" y2="1150.62" stroke="#000" stroke-width="2.0"/>
<line x1="1043.25" y1="1148.33" x2="1055.75" y2="1148.33" stroke="#222" stroke-width="1.6"/>
<line x1="1048.85" y1="1146.04" x2="1055.75" y2="1146.04" stroke="#000" stroke-width="2.0"/>
<line x1="1048.85" y1="1143.75" x2="1055.75" y2="1143.75" stroke="#000" stroke-width="2.0"/>
<line x1="1048.85" y1="1141.46" x2="1055.75" y2="1141.46" stroke="#000" stroke-width="2.0"/>
<line x1="1048.85" y1="1139.16" x2="1055.75" y2="1139.16" stroke="#000" stroke-width="2.0"/>
<line x1="1048.85" y1="1136.87" x2="1055.75" y2="1136.87" stroke="#000" stroke-width="2.0"/>
<line x1="1048.85" y1="1134.58" x2="1055.75" y2="1134.58" stroke="#000" stroke-width="2.0"/>
<line x1="1048.85" y1="1132.29" x2="1055.75" y2="1132.29" stroke="#000" stroke-width="2.0"/>
<line x1="1048.85" y1="1130.00" x2="1055.75" y2="1130.00" stroke="#000" stroke-width="2.0"/>
<line x1="1048.85" y1="1127.71" x2="1055.75" y2="1127.71" stroke="#000" stroke-width="2.0"/>
<line x1="1043.25" y1="1125.41" x2="1055.75" y2="1125.41" stroke="#222" stroke-width="1.6"/>
<line x1="1048.85" y1="1123.12" x2="1055.75" y2="1123.12" stroke="#000" stroke-width="2.0"/>
<line x1="1048.85" y1="1120.83" x2="1055.75" y2="1120.83" stroke="#000" stroke-width="2.0"/>
<line x1="1048.85" y1="1118.54" x2="1055.75" y2="1118.54" stroke="#000" stroke-width="2.0"/>
<line x1="1048.85" y1="1116.25" x2="1055.75" y2="1116.25" stroke="#000" stroke-width="2.0"/>
<line x1="1048.85" y1="1113.96" x2="1055.75" y2="1113.96" stroke="#000" stroke-width="2.0"/>
<line x1="1048.85" y1="1111.67" x2="1055.75" y2="1111.67" stroke="#000" stroke-width="2.0"/>
<line x1="1048.85" y1="1109.37" x2="1055.75" y2="1109.37" stroke="#000" stroke-width="2.0"/>
<line x1="1048.85" y1="1107.08" x2="1055.75" y2="1107.08" stroke="#000" stroke-width="2.0"/>
<line x1="1048.85" y1="1104.79" x2="1055.75" y2="1104.79" stroke="#000" stroke-width="2.0"/>
<line x1="1043.25" y1="1102.50" x2="1055.75" y2="1102.50" stroke="#222" stroke-width="1.6"/>
<line x1="1043.75" y1="1102.50" x2="1055.75" y2="1102.50" stroke="#222" stroke-width="1.7"/>
<text x="1037.8" y="1112.3" font-size="26" text-anchor="end" fill="#111" textLength="39.0" lengthAdjust="spacingAndGlyphs" stroke="#111" stroke-width="0.35">250</text>
<line x1="1043.75" y1="1148.33" x2="1055.75" y2="1148.33" stroke="#222" stroke-width="1.7"/>
<text x="1037.8" y="1158.1" font-size="26" text-anchor="end" fill="#111" textLength="39.0" lengthAdjust="spacingAndGlyphs" stroke="#111" stroke-width="0.35">150</text>
<line x1="1043.75" y1="1194.16" x2="1055.75" y2="1194.16" stroke="#222" stroke-width="1.7"/>
<text x="1037.8" y="1204.0" font-size="26" text-anchor="end" fill="#111" textLength="26.0" lengthAdjust="spacingAndGlyphs" stroke="#111" stroke-width="0.35">50</text>
<line x1="1043.75" y1="1239.99" x2="1055.75" y2="1239.99" stroke="#222" stroke-width="1.7"/>
<text x="1037.8" y="1249.8" font-size="26" text-anchor="end" fill="#111" textLength="33.8" lengthAdjust="spacingAndGlyphs" stroke="#111" stroke-width="0.35">-50</text>
<polyline points="1195.85,1121.39 1201.96,1123.15 1208.06,1124.91 1214.17,1126.66 1220.27,1128.41 1226.38,1130.15 1232.48,1131.89 1238.59,1133.62 1244.69,1135.34 1250.80,1137.05 1256.90,1138.75 1263.01,1140.44 1269.11,1142.12 1275.22,1143.78 1281.32,1145.43 1287.43,1147.06 1293.53,1148.67 1299.64,1150.25 1305.74,1151.82 1311.85,1153.35 1317.95,1154.86 1324.06,1156.33 1330.16,1157.77 1336.27,1159.18 1342.37,1160.55 1348.48,1161.88 1354.58,1163.17 1360.69,1164.43 1366.79,1165.65 1372.90,1166.84 1379.00,1168.00 1385.11,1169.13 1391.21,1170.23 1397.32,1171.31 1403.42,1172.37 1409.53,1173.41 1415.63,1174.43 1421.74,1175.44 1427.84,1176.43 1433.95,1177.41 1440.05,1178.38 1446.16,1179.34 1452.26,1180.29 1458.37,1181.23 1464.47,1182.17 1470.58,1183.10 1476.68,1184.02 1482.79,1184.94 1488.89,1185.86 1495.00,1186.77 1501.10,1187.68 1507.21,1188.58 1513.31,1189.48 1519.42,1190.38 1525.52,1191.27 1531.63,1192.17 1537.73,1193.06 1543.84,1193.95 1549.94,1194.83 1556.05,1195.72" fill="none" stroke="#cfcfcf" stroke-width="1.5"/>
<polyline points="1195.85,1147.99 1201.96,1148.90 1208.06,1149.82 1214.17,1150.74 1220.27,1151.66 1226.38,1152.60 1232.48,1153.53 1238.59,1154.48 1244.69,1155.43 1250.80,1156.40 1256.90,1157.37 1263.01,1158.35 1269.11,1159.35 1275.22,1160.36 1281.32,1161.38 1287.43,1162.43 1293.53,1163.49 1299.64,1164.58 1305.74,1165.69 1311.85,1166.82 1317.95,1167.99 1324.06,1169.19 1330.16,1170.42 1336.27,1171.69 1342.37,1173.00 1348.48,1174.34 1354.58,1175.72 1360.69,1177.13 1366.79,1178.58 1372.90,1180.07 1379.00,1181.58 1385.11,1183.13 1391.21,1184.70 1397.32,1186.29 1403.42,1187.91 1409.53,1189.55 1415.63,1191.20 1421.74,1192.87 1427.84,1194.55 1433.95,1196.24 1440.05,1197.94 1446.16,1199.66 1452.26,1201.38 1458.37,1203.11 1464.47,1204.85 1470.58,1206.59 1476.68,1208.34 1482.79,1210.09 1488.89,1211.85 1495.00,1213.61 1501.10,1215.38 1507.21,1217.15 1513.31,1218.92 1519.42,1220.70 1525.52,1222.48 1531.63,1224.26 1537.73,1226.04 1543.84,1227.82 1549.94,1229.61 1556.05,1231.40" fill="none" stroke="#cfcfcf" stroke-width="1.5"/>
<polyline points="1195.85,1121.39 1201.96,1123.15 1208.06,1124.91 1214.17,1126.66 1220.27,1128.41 1226.38,1130.15 1232.48,1131.89 1238.59,1133.62 1244.69,1135.34 1250.80,1137.05 1256.90,1138.75 1263.01,1140.44 1269.11,1142.12 1275.22,1143.78 1281.32,1145.43 1287.43,1147.06 1293.53,1148.67 1299.64,1150.25 1305.74,1151.82 1311.85,1153.35 1317.95,1154.86 1324.06,1156.33 1330.16,1157.77 1336.27,1159.18 1342.37,1160.55 1348.48,1161.88 1354.58,1163.17 1360.69,1164.43 1366.79,1165.65 1372.90,1166.84 1379.00,1168.00 1385.11,1169.13 1391.21,1170.23 1397.32,1171.31 1403.42,1172.37 1409.53,1173.41 1415.63,1174.43 1421.74,1175.44 1427.84,1176.43 1433.95,1177.41 1440.05,1178.38 1446.16,1179.34 1452.26,1180.29 1458.37,1181.23 1464.47,1182.17 1470.58,1183.10 1476.68,1184.02 1482.79,1184.94 1488.89,1185.86 1495.00,1186.77 1501.10,1187.68 1507.21,1188.58 1513.31,1189.48 1519.42,1190.38 1525.52,1191.27 1531.63,1192.17 1537.73,1193.06 1543.84,1193.95 1549.94,1194.83 1556.05,1195.72" fill="none" stroke="#222" stroke-width="1.6" stroke-dasharray="4 2.4"/>
<polyline points="1195.85,1147.99 1201.96,1148.90 1208.06,1149.82 1214.17,1150.74 1220.27,1151.66 1226.38,1152.60 1232.48,1153.53 1238.59,1154.48 1244.69,1155.43 1250.80,1156.40 1256.90,1157.37 1263.01,1158.35 1269.11,1159.35 1275.22,1160.36 1281.32,1161.38 1287.43,1162.43 1293.53,1163.49 1299.64,1164.58 1305.74,1165.69 1311.85,1166.82 1317.95,1167.99 1324.06,1169.19 1330.16,1170.42 1336.27,1171.69 1342.37,1173.00 1348.48,1174.34 1354.58,1175.72 1360.69,1177.13 1366.79,1178.58 1372.90,1180.07 1379.00,1181.58 1385.11,1183.13 1391.21,1184.70 1397.32,1186.29 1403.42,1187.91 1409.53,1189.55 1415.63,1191.20 1421.74,1192.87 1427.84,1194.55 1433.95,1196.24 1440.05,1197.94 1446.16,1199.66 1452.26,1201.38 1458.37,1203.11 1464.47,1204.85 1470.58,1206.59 1476.68,1208.34 1482.79,1210.09 1488.89,1211.85 1495.00,1213.61 1501.10,1215.38 1507.21,1217.15 1513.31,1218.92 1519.42,1220.70 1525.52,1222.48 1531.63,1224.26 1537.73,1226.04 1543.84,1227.82 1549.94,1229.61 1556.05,1231.40" fill="none" stroke="#222" stroke-width="1.6" stroke-dasharray="4 2.4"/>
<polyline points="1195.85,1134.69 1201.96,1136.03 1208.06,1137.36 1214.17,1138.70 1220.27,1140.04 1226.38,1141.37 1232.48,1142.71 1238.59,1144.05 1244.69,1145.38 1250.80,1146.72 1256.90,1148.06 1263.01,1149.39 1269.11,1150.73 1275.22,1152.07 1281.32,1153.40 1287.43,1154.74 1293.53,1156.08 1299.64,1157.42 1305.74,1158.75 1311.85,1160.09 1317.95,1161.43 1324.06,1162.76 1330.16,1164.10 1336.27,1165.44 1342.37,1166.77 1348.48,1168.11 1354.58,1169.45 1360.69,1170.78 1366.79,1172.12 1372.90,1173.46 1379.00,1174.79 1385.11,1176.13 1391.21,1177.47 1397.32,1178.80 1403.42,1180.14 1409.53,1181.48 1415.63,1182.81 1421.74,1184.15 1427.84,1185.49 1433.95,1186.82 1440.05,1188.16 1446.16,1189.50 1452.26,1190.83 1458.37,1192.17 1464.47,1193.51 1470.58,1194.84 1476.68,1196.18 1482.79,1197.52 1488.89,1198.85 1495.00,1200.19 1501.10,1201.53 1507.21,1202.86 1513.31,1204.20 1519.42,1205.54 1525.52,1206.87 1531.63,1208.21 1537.73,1209.55 1543.84,1210.89 1549.94,1212.22 1556.05,1213.56" fill="none" stroke="#1a1a1a" stroke-width="1.85"/>
<circle cx="1362.85" cy="1187.00" r="4.50" fill="#d90000"/>
<circle cx="1399.75" cy="1192.50" r="4.50" fill="#d90000"/>
<circle cx="1405.35" cy="1194.70" r="4.50" fill="#d90000"/>
<circle cx="1413.05" cy="1191.00" r="4.50" fill="#d90000"/>
<circle cx="1422.35" cy="1203.80" r="4.50" fill="#d90000"/>
<circle cx="1427.95" cy="1197.20" r="4.50" fill="#d90000"/>
<circle cx="1479.85" cy="1192.50" r="4.50" fill="#d90000"/>
<circle cx="1485.55" cy="1194.20" r="4.50" fill="#d90000"/>
<circle cx="1556.05" cy="1195.10" r="4.50" fill="#d90000"/>
<polygon points="1242.95,1144.90 1247.45,1153.50 1238.45,1153.50" fill="#0000ff"/>
<polygon points="1247.25,1159.80 1251.75,1168.40 1242.75,1168.40" fill="#0000ff"/>
<polygon points="1271.75,1172.00 1276.25,1180.60 1267.25,1180.60" fill="#0000ff"/>
<polygon points="1299.35,1171.70 1303.85,1180.30 1294.85,1180.30" fill="#0000ff"/>
<polygon points="1305.95,1162.90 1310.45,1171.50 1301.45,1171.50" fill="#0000ff"/>
<polygon points="1330.95,1178.20 1335.45,1186.80 1326.45,1186.80" fill="#0000ff"/>
<polygon points="1334.95,1187.00 1339.45,1195.60 1330.45,1195.60" fill="#0000ff"/>
<polygon points="1374.15,1155.10 1378.65,1163.70 1369.65,1163.70" fill="#0000ff"/>
<polygon points="1385.05,1163.40 1389.55,1172.00 1380.55,1172.00" fill="#0000ff"/>
<rect x="1310.35" y="1179.30" width="7.40" height="7.40" fill="#4a7f20"/>
<rect x="1319.35" y="1159.60" width="7.40" height="7.40" fill="#4a7f20"/>
<rect x="1331.25" y="1146.60" width="7.40" height="7.40" fill="#4a7f20"/>
<rect x="1339.15" y="1159.60" width="7.40" height="7.40" fill="#4a7f20"/>
<rect x="1356.45" y="1159.60" width="7.40" height="7.40" fill="#4a7f20"/>
<rect x="1374.05" y="1151.00" width="7.40" height="7.40" fill="#4a7f20"/>
<rect x="1378.05" y="1175.60" width="7.40" height="7.40" fill="#4a7f20"/>
<rect x="1408.65" y="1169.60" width="7.40" height="7.40" fill="#4a7f20"/>
<polygon points="1195.85,1125.20 1202.15,1131.70 1195.85,1138.20 1189.55,1131.70" fill="#f2d32f"/>
<polygon points="1229.05,1119.90 1235.35,1126.40 1229.05,1132.90 1222.75,1126.40" fill="#f2d32f"/>
<polygon points="1273.05,1101.80 1279.35,1108.30 1273.05,1114.80 1266.75,1108.30" fill="#f2d32f"/>
<polygon points="1276.35,1103.70 1282.65,1110.20 1276.35,1116.70 1270.05,1110.20" fill="#f2d32f"/>
<polygon points="1277.35,1128.80 1283.65,1135.30 1277.35,1141.80 1271.05,1135.30" fill="#f2d32f"/>
<polygon points="1262.55,1148.90 1268.85,1155.40 1262.55,1161.90 1256.25,1155.40" fill="#f2d32f"/>
<polygon points="1265.45,1151.10 1271.75,1157.60 1265.45,1164.10 1259.15,1157.60" fill="#f2d32f"/>
<polygon points="1342.25,1142.70 1348.55,1149.20 1342.25,1155.70 1335.95,1149.20" fill="#f2d32f"/>
<text transform="translate(916.0,1172.5) rotate(-90)" x="0" y="0" font-size="24" text-anchor="middle" fill="#111" textLength="79.0" lengthAdjust="spacingAndGlyphs" stroke="#111" stroke-width="0.35">Css,max</text>
<text transform="translate(944.5,1173.1) rotate(-90)" x="0" y="0" font-size="24" text-anchor="middle" fill="#111" textLength="78.8" lengthAdjust="spacingAndGlyphs" stroke="#111" stroke-width="0.35">(ng/mL)</text>
<rect x="171.00" y="1261.80" width="712.50" height="148.20" fill="none" stroke="#222" stroke-width="1.8" stroke-linejoin="round"/>
<line x1="159.00" y1="1295.00" x2="171.00" y2="1295.00" stroke="#222" stroke-width="1.7"/>
<text x="153.0" y="1304.8" font-size="26" text-anchor="end" fill="#111" textLength="39.0" lengthAdjust="spacingAndGlyphs" stroke="#111" stroke-width="0.35">150</text>
<line x1="159.00" y1="1349.55" x2="171.00" y2="1349.55" stroke="#222" stroke-width="1.7"/>
<text x="153.0" y="1359.3" font-size="26" text-anchor="end" fill="#111" textLength="26.0" lengthAdjust="spacingAndGlyphs" stroke="#111" stroke-width="0.35">50</text>
<line x1="159.00" y1="1404.10" x2="171.00" y2="1404.10" stroke="#222" stroke-width="1.7"/>
<text x="153.0" y="1413.9" font-size="26" text-anchor="end" fill="#111" textLength="33.8" lengthAdjust="spacingAndGlyphs" stroke="#111" stroke-width="0.35">-50</text>
<polyline points="311.10,1293.49 317.21,1295.01 323.31,1296.53 329.42,1298.05 335.52,1299.56 341.63,1301.07 347.73,1302.57 353.84,1304.07 359.94,1305.56 366.05,1307.04 372.15,1308.51 378.26,1309.98 384.36,1311.43 390.47,1312.87 396.57,1314.30 402.68,1315.71 408.78,1317.11 414.89,1318.48 420.99,1319.84 427.10,1321.17 433.20,1322.48 439.31,1323.75 445.41,1325.00 451.52,1326.22 457.62,1327.41 463.73,1328.57 469.83,1329.69 475.94,1330.78 482.04,1331.85 488.15,1332.88 494.25,1333.89 500.36,1334.87 506.46,1335.83 512.57,1336.77 518.67,1337.69 524.78,1338.60 530.88,1339.49 536.99,1340.36 543.09,1341.23 549.20,1342.08 555.30,1342.93 561.41,1343.77 567.51,1344.60 573.62,1345.42 579.72,1346.24 585.83,1347.05 591.93,1347.86 598.04,1348.66 604.14,1349.46 610.25,1350.25 616.35,1351.05 622.46,1351.84 628.56,1352.62 634.67,1353.41 640.77,1354.19 646.88,1354.97 652.98,1355.75 659.09,1356.52 665.19,1357.30 671.30,1358.07" fill="none" stroke="#cfcfcf" stroke-width="1.5"/>
<polyline points="311.10,1316.30 317.21,1317.10 323.31,1317.90 329.42,1318.70 335.52,1319.51 341.63,1320.33 347.73,1321.15 353.84,1321.97 359.94,1322.80 366.05,1323.64 372.15,1324.49 378.26,1325.35 384.36,1326.22 390.47,1327.10 396.57,1327.99 402.68,1328.90 408.78,1329.83 414.89,1330.77 420.99,1331.74 427.10,1332.73 433.20,1333.74 439.31,1334.79 445.41,1335.86 451.52,1336.96 457.62,1338.09 463.73,1339.26 469.83,1340.45 475.94,1341.68 482.04,1342.94 488.15,1344.23 494.25,1345.54 500.36,1346.88 506.46,1348.24 512.57,1349.63 518.67,1351.03 524.78,1352.44 530.88,1353.87 536.99,1355.32 543.09,1356.77 549.20,1358.24 555.30,1359.72 561.41,1361.20 567.51,1362.69 573.62,1364.19 579.72,1365.69 585.83,1367.20 591.93,1368.72 598.04,1370.24 604.14,1371.76 610.25,1373.29 616.35,1374.81 622.46,1376.35 628.56,1377.88 634.67,1379.42 640.77,1380.96 646.88,1382.50 652.98,1384.04 659.09,1385.59 665.19,1387.13 671.30,1388.68" fill="none" stroke="#cfcfcf" stroke-width="1.5"/>
<polyline points="311.10,1293.49 317.21,1295.01 323.31,1296.53 329.42,1298.05 335.52,1299.56 341.63,1301.07 347.73,1302.57 353.84,1304.07 359.94,1305.56 366.05,1307.04 372.15,1308.51 378.26,1309.98 384.36,1311.43 390.47,1312.87 396.57,1314.30 402.68,1315.71 408.78,1317.11 414.89,1318.48 420.99,1319.84 427.10,1321.17 433.20,1322.48 439.31,1323.75 445.41,1325.00 451.52,1326.22 457.62,1327.41 463.73,1328.57 469.83,1329.69 475.94,1330.78 482.04,1331.85 488.15,1332.88 494.25,1333.89 500.36,1334.87 506.46,1335.83 512.57,1336.77 518.67,1337.69 524.78,1338.60 530.88,1339.49 536.99,1340.36 543.09,1341.23 549.20,1342.08 555.30,1342.93 561.41,1343.77 567.51,1344.60 573.62,1345.42 579.72,1346.24 585.83,1347.05 591.93,1347.86 598.04,1348.66 604.14,1349.46 610.25,1350.25 616.35,1351.05 622.46,1351.84 628.56,1352.62 634.67,1353.41 640.77,1354.19 646.88,1354.97 652.98,1355.75 659.09,1356.52 665.19,1357.30 671.30,1358.07" fill="none" stroke="#222" stroke-width="1.6" stroke-dasharray="4 2.4"/>
<polyline points="311.10,1316.30 317.21,1317.10 323.31,1317.90 329.42,1318.70 335.52,1319.51 341.63,1320.33 347.73,1321.15 353.84,1321.97 359.94,1322.80 366.05,1323.64 372.15,1324.49 378.26,1325.35 384.36,1326.22 390.47,1327.10 396.57,1327.99 402.68,1328.90 408.78,1329.83 414.89,1330.77 420.99,1331.74 427.10,1332.73 433.20,1333.74 439.31,1334.79 445.41,1335.86 451.52,1336.96 457.62,1338.09 463.73,1339.26 469.83,1340.45 475.94,1341.68 482.04,1342.94 488.15,1344.23 494.25,1345.54 500.36,1346.88 506.46,1348.24 512.57,1349.63 518.67,1351.03 524.78,1352.44 530.88,1353.87 536.99,1355.32 543.09,1356.77 549.20,1358.24 555.30,1359.72 561.41,1361.20 567.51,1362.69 573.62,1364.19 579.72,1365.69 585.83,1367.20 591.93,1368.72 598.04,1370.24 604.14,1371.76 610.25,1373.29 616.35,1374.81 622.46,1376.35 628.56,1377.88 634.67,1379.42 640.77,1380.96 646.88,1382.50 652.98,1384.04 659.09,1385.59 665.19,1387.13 671.30,1388.68" fill="none" stroke="#222" stroke-width="1.6" stroke-dasharray="4 2.4"/>
<polyline points="311.10,1304.90 317.21,1306.06 323.31,1307.22 329.42,1308.38 335.52,1309.54 341.63,1310.70 347.73,1311.86 353.84,1313.02 359.94,1314.18 366.05,1315.34 372.15,1316.50 378.26,1317.66 384.36,1318.82 390.47,1319.98 396.57,1321.14 402.68,1322.31 408.78,1323.47 414.89,1324.63 420.99,1325.79 427.10,1326.95 433.20,1328.11 439.31,1329.27 445.41,1330.43 451.52,1331.59 457.62,1332.75 463.73,1333.91 469.83,1335.07 475.94,1336.23 482.04,1337.39 488.15,1338.56 494.25,1339.72 500.36,1340.88 506.46,1342.04 512.57,1343.20 518.67,1344.36 524.78,1345.52 530.88,1346.68 536.99,1347.84 543.09,1349.00 549.20,1350.16 555.30,1351.32 561.41,1352.48 567.51,1353.64 573.62,1354.81 579.72,1355.97 585.83,1357.13 591.93,1358.29 598.04,1359.45 604.14,1360.61 610.25,1361.77 616.35,1362.93 622.46,1364.09 628.56,1365.25 634.67,1366.41 640.77,1367.57 646.88,1368.73 652.98,1369.89 659.09,1371.05 665.19,1372.22 671.30,1373.38" fill="none" stroke="#1a1a1a" stroke-width="1.85"/>
<circle cx="478.10" cy="1348.55" r="4.50" fill="#d90000"/>
<circle cx="515.00" cy="1356.46" r="4.50" fill="#d90000"/>
<circle cx="520.60" cy="1354.25" r="4.50" fill="#d90000"/>
<circle cx="528.30" cy="1357.36" r="4.50" fill="#d90000"/>
<circle cx="537.60" cy="1363.26" r="4.50" fill="#d90000"/>
<circle cx="543.20" cy="1359.86" r="4.50" fill="#d90000"/>
<circle cx="595.10" cy="1355.56" r="4.50" fill="#d90000"/>
<circle cx="600.80" cy="1355.56" r="4.50" fill="#d90000"/>
<circle cx="671.30" cy="1357.26" r="4.50" fill="#d90000"/>
<polygon points="358.20,1322.03 362.70,1330.63 353.70,1330.63" fill="#0000ff"/>
<polygon points="362.50,1329.54 367.00,1338.14 358.00,1338.14" fill="#0000ff"/>
<polygon points="387.00,1336.94 391.50,1345.54 382.50,1345.54" fill="#0000ff"/>
<polygon points="414.60,1334.64 419.10,1343.24 410.10,1343.24" fill="#0000ff"/>
<polygon points="421.20,1328.43 425.70,1337.03 416.70,1337.03" fill="#0000ff"/>
<polygon points="446.20,1341.45 450.70,1350.05 441.70,1350.05" fill="#0000ff"/>
<polygon points="450.20,1347.65 454.70,1356.25 445.70,1356.25" fill="#0000ff"/>
<polygon points="489.40,1325.63 493.90,1334.23 484.90,1334.23" fill="#0000ff"/>
<polygon points="500.30,1330.74 504.80,1339.34 495.80,1339.34" fill="#0000ff"/>
<rect x="425.60" y="1340.34" width="7.40" height="7.40" fill="#4a7f20"/>
<rect x="434.60" y="1325.43" width="7.40" height="7.40" fill="#4a7f20"/>
<rect x="446.50" y="1313.42" width="7.40" height="7.40" fill="#4a7f20"/>
<rect x="454.40" y="1329.03" width="7.40" height="7.40" fill="#4a7f20"/>
<rect x="471.70" y="1324.53" width="7.40" height="7.40" fill="#4a7f20"/>
<rect x="489.30" y="1320.93" width="7.40" height="7.40" fill="#4a7f20"/>
<rect x="493.30" y="1337.54" width="7.40" height="7.40" fill="#4a7f20"/>
<rect x="523.90" y="1337.24" width="7.40" height="7.40" fill="#4a7f20"/>
<polygon points="311.10,1298.01 317.40,1304.51 311.10,1311.01 304.80,1304.51" fill="#f2d32f"/>
<polygon points="344.30,1295.51 350.60,1302.01 344.30,1308.51 338.00,1302.01" fill="#f2d32f"/>
<polygon points="388.30,1275.19 394.60,1281.69 388.30,1288.19 382.00,1281.69" fill="#f2d32f"/>
<polygon points="391.60,1275.19 397.90,1281.69 391.60,1288.19 385.30,1281.69" fill="#f2d32f"/>
<polygon points="392.60,1295.21 398.90,1301.71 392.60,1308.21 386.30,1301.71" fill="#f2d32f"/>
<polygon points="377.80,1310.52 384.10,1317.02 377.80,1323.52 371.50,1317.02" fill="#f2d32f"/>
<polygon points="380.70,1309.32 387.00,1315.82 380.70,1322.32 374.40,1315.82" fill="#f2d32f"/>
<polygon points="457.50,1314.62 463.80,1321.12 457.50,1327.62 451.20,1321.12" fill="#f2d32f"/>
<text transform="translate(31.0,1336.3) rotate(-90)" x="0" y="0" font-size="24" text-anchor="middle" fill="#111" textLength="132.5" lengthAdjust="spacingAndGlyphs" stroke="#111" stroke-width="0.35">Cavg (ng/mL)</text>
<rect x="1055.75" y="1261.80" width="712.50" height="148.20" fill="none" stroke="#222" stroke-width="1.8" stroke-linejoin="round"/>
<line x1="1043.25" y1="1404.10" x2="1055.75" y2="1404.10" stroke="#222" stroke-width="1.6"/>
<line x1="1048.85" y1="1401.37" x2="1055.75" y2="1401.37" stroke="#000" stroke-width="2.0"/>
<line x1="1048.85" y1="1398.64" x2="1055.75" y2="1398.64" stroke="#000" stroke-width="2.0"/>
<line x1="1048.85" y1="1395.92" x2="1055.75" y2="1395.92" stroke="#000" stroke-width="2.0"/>
<line x1="1048.85" y1="1393.19" x2="1055.75" y2="1393.19" stroke="#000" stroke-width="2.0"/>
<line x1="1048.85" y1="1390.46" x2="1055.75" y2="1390.46" stroke="#000" stroke-width="2.0"/>
<line x1="1048.85" y1="1387.73" x2="1055.75" y2="1387.73" stroke="#000" stroke-width="2.0"/>
<line x1="1048.85" y1="1385.01" x2="1055.75" y2="1385.01" stroke="#000" stroke-width="2.0"/>
<line x1="1048.85" y1="1382.28" x2="1055.75" y2="1382.28" stroke="#000" stroke-width="2.0"/>
<line x1="1048.85" y1="1379.55" x2="1055.75" y2="1379.55" stroke="#000" stroke-width="2.0"/>
<line x1="1043.25" y1="1376.83" x2="1055.75" y2="1376.83" stroke="#222" stroke-width="1.6"/>
<line x1="1048.85" y1="1374.10" x2="1055.75" y2="1374.10" stroke="#000" stroke-width="2.0"/>
<line x1="1048.85" y1="1371.37" x2="1055.75" y2="1371.37" stroke="#000" stroke-width="2.0"/>
<line x1="1048.85" y1="1368.64" x2="1055.75" y2="1368.64" stroke="#000" stroke-width="2.0"/>
<line x1="1048.85" y1="1365.91" x2="1055.75" y2="1365.91" stroke="#000" stroke-width="2.0"/>
<line x1="1048.85" y1="1363.19" x2="1055.75" y2="1363.19" stroke="#000" stroke-width="2.0"/>
<line x1="1048.85" y1="1360.46" x2="1055.75" y2="1360.46" stroke="#000" stroke-width="2.0"/>
<line x1="1048.85" y1="1357.73" x2="1055.75" y2="1357.73" stroke="#000" stroke-width="2.0"/>
<line x1="1048.85" y1="1355.01" x2="1055.75" y2="1355.01" stroke="#000" stroke-width="2.0"/>
<line x1="1048.85" y1="1352.28" x2="1055.75" y2="1352.28" stroke="#000" stroke-width="2.0"/>
<line x1="1043.25" y1="1349.55" x2="1055.75" y2="1349.55" stroke="#222" stroke-width="1.6"/>
<line x1="1048.85" y1="1346.82" x2="1055.75" y2="1346.82" stroke="#000" stroke-width="2.0"/>
<line x1="1048.85" y1="1344.10" x2="1055.75" y2="1344.10" stroke="#000" stroke-width="2.0"/>
<line x1="1048.85" y1="1341.37" x2="1055.75" y2="1341.37" stroke="#000" stroke-width="2.0"/>
<line x1="1048.85" y1="1338.64" x2="1055.75" y2="1338.64" stroke="#000" stroke-width="2.0"/>
<line x1="1048.85" y1="1335.91" x2="1055.75" y2="1335.91" stroke="#000" stroke-width="2.0"/>
<line x1="1048.85" y1="1333.18" x2="1055.75" y2="1333.18" stroke="#000" stroke-width="2.0"/>
<line x1="1048.85" y1="1330.46" x2="1055.75" y2="1330.46" stroke="#000" stroke-width="2.0"/>
<line x1="1048.85" y1="1327.73" x2="1055.75" y2="1327.73" stroke="#000" stroke-width="2.0"/>
<line x1="1048.85" y1="1325.00" x2="1055.75" y2="1325.00" stroke="#000" stroke-width="2.0"/>
<line x1="1043.25" y1="1322.28" x2="1055.75" y2="1322.28" stroke="#222" stroke-width="1.6"/>
<line x1="1048.85" y1="1319.55" x2="1055.75" y2="1319.55" stroke="#000" stroke-width="2.0"/>
<line x1="1048.85" y1="1316.82" x2="1055.75" y2="1316.82" stroke="#000" stroke-width="2.0"/>
<line x1="1048.85" y1="1314.09" x2="1055.75" y2="1314.09" stroke="#000" stroke-width="2.0"/>
<line x1="1048.85" y1="1311.37" x2="1055.75" y2="1311.37" stroke="#000" stroke-width="2.0"/>
<line x1="1048.85" y1="1308.64" x2="1055.75" y2="1308.64" stroke="#000" stroke-width="2.0"/>
<line x1="1048.85" y1="1305.91" x2="1055.75" y2="1305.91" stroke="#000" stroke-width="2.0"/>
<line x1="1048.85" y1="1303.18" x2="1055.75" y2="1303.18" stroke="#000" stroke-width="2.0"/>
<line x1="1048.85" y1="1300.45" x2="1055.75" y2="1300.45" stroke="#000" stroke-width="2.0"/>
<line x1="1048.85" y1="1297.73" x2="1055.75" y2="1297.73" stroke="#000" stroke-width="2.0"/>
<line x1="1043.25" y1="1295.00" x2="1055.75" y2="1295.00" stroke="#222" stroke-width="1.6"/>
<line x1="1048.85" y1="1292.27" x2="1055.75" y2="1292.27" stroke="#000" stroke-width="2.0"/>
<line x1="1048.85" y1="1289.55" x2="1055.75" y2="1289.55" stroke="#000" stroke-width="2.0"/>
<line x1="1048.85" y1="1286.82" x2="1055.75" y2="1286.82" stroke="#000" stroke-width="2.0"/>
<line x1="1048.85" y1="1284.09" x2="1055.75" y2="1284.09" stroke="#000" stroke-width="2.0"/>
<line x1="1048.85" y1="1281.36" x2="1055.75" y2="1281.36" stroke="#000" stroke-width="2.0"/>
<line x1="1048.85" y1="1278.63" x2="1055.75" y2="1278.63" stroke="#000" stroke-width="2.0"/>
<line x1="1048.85" y1="1275.91" x2="1055.75" y2="1275.91" stroke="#000" stroke-width="2.0"/>
<line x1="1048.85" y1="1273.18" x2="1055.75" y2="1273.18" stroke="#000" stroke-width="2.0"/>
<line x1="1048.85" y1="1270.45" x2="1055.75" y2="1270.45" stroke="#000" stroke-width="2.0"/>
<line x1="1043.25" y1="1267.72" x2="1055.75" y2="1267.72" stroke="#222" stroke-width="1.6"/>
<line x1="1043.75" y1="1295.00" x2="1055.75" y2="1295.00" stroke="#222" stroke-width="1.7"/>
<text x="1037.8" y="1304.8" font-size="26" text-anchor="end" fill="#111" textLength="39.0" lengthAdjust="spacingAndGlyphs" stroke="#111" stroke-width="0.35">150</text>
<line x1="1043.75" y1="1349.55" x2="1055.75" y2="1349.55" stroke="#222" stroke-width="1.7"/>
<text x="1037.8" y="1359.3" font-size="26" text-anchor="end" fill="#111" textLength="26.0" lengthAdjust="spacingAndGlyphs" stroke="#111" stroke-width="0.35">50</text>
<line x1="1043.75" y1="1404.10" x2="1055.75" y2="1404.10" stroke="#222" stroke-width="1.7"/>
<text x="1037.8" y="1413.9" font-size="26" text-anchor="end" fill="#111" textLength="33.8" lengthAdjust="spacingAndGlyphs" stroke="#111" stroke-width="0.35">-50</text>
<polyline points="1195.85,1293.49 1201.96,1295.01 1208.06,1296.53 1214.17,1298.05 1220.27,1299.56 1226.38,1301.07 1232.48,1302.57 1238.59,1304.07 1244.69,1305.56 1250.80,1307.04 1256.90,1308.51 1263.01,1309.98 1269.11,1311.43 1275.22,1312.87 1281.32,1314.30 1287.43,1315.71 1293.53,1317.11 1299.64,1318.48 1305.74,1319.84 1311.85,1321.17 1317.95,1322.48 1324.06,1323.75 1330.16,1325.00 1336.27,1326.22 1342.37,1327.41 1348.48,1328.57 1354.58,1329.69 1360.69,1330.78 1366.79,1331.85 1372.90,1332.88 1379.00,1333.89 1385.11,1334.87 1391.21,1335.83 1397.32,1336.77 1403.42,1337.69 1409.53,1338.60 1415.63,1339.49 1421.74,1340.36 1427.84,1341.23 1433.95,1342.08 1440.05,1342.93 1446.16,1343.77 1452.26,1344.60 1458.37,1345.42 1464.47,1346.24 1470.58,1347.05 1476.68,1347.86 1482.79,1348.66 1488.89,1349.46 1495.00,1350.25 1501.10,1351.05 1507.21,1351.84 1513.31,1352.62 1519.42,1353.41 1525.52,1354.19 1531.63,1354.97 1537.73,1355.75 1543.84,1356.52 1549.94,1357.30 1556.05,1358.07" fill="none" stroke="#cfcfcf" stroke-width="1.5"/>
<polyline points="1195.85,1316.30 1201.96,1317.10 1208.06,1317.90 1214.17,1318.70 1220.27,1319.51 1226.38,1320.33 1232.48,1321.15 1238.59,1321.97 1244.69,1322.80 1250.80,1323.64 1256.90,1324.49 1263.01,1325.35 1269.11,1326.22 1275.22,1327.10 1281.32,1327.99 1287.43,1328.90 1293.53,1329.83 1299.64,1330.77 1305.74,1331.74 1311.85,1332.73 1317.95,1333.74 1324.06,1334.79 1330.16,1335.86 1336.27,1336.96 1342.37,1338.09 1348.48,1339.26 1354.58,1340.45 1360.69,1341.68 1366.79,1342.94 1372.90,1344.23 1379.00,1345.54 1385.11,1346.88 1391.21,1348.24 1397.32,1349.63 1403.42,1351.03 1409.53,1352.44 1415.63,1353.87 1421.74,1355.32 1427.84,1356.77 1433.95,1358.24 1440.05,1359.72 1446.16,1361.20 1452.26,1362.69 1458.37,1364.19 1464.47,1365.69 1470.58,1367.20 1476.68,1368.72 1482.79,1370.24 1488.89,1371.76 1495.00,1373.29 1501.10,1374.81 1507.21,1376.35 1513.31,1377.88 1519.42,1379.42 1525.52,1380.96 1531.63,1382.50 1537.73,1384.04 1543.84,1385.59 1549.94,1387.13 1556.05,1388.68" fill="none" stroke="#cfcfcf" stroke-width="1.5"/>
<polyline points="1195.85,1293.49 1201.96,1295.01 1208.06,1296.53 1214.17,1298.05 1220.27,1299.56 1226.38,1301.07 1232.48,1302.57 1238.59,1304.07 1244.69,1305.56 1250.80,1307.04 1256.90,1308.51 1263.01,1309.98 1269.11,1311.43 1275.22,1312.87 1281.32,1314.30 1287.43,1315.71 1293.53,1317.11 1299.64,1318.48 1305.74,1319.84 1311.85,1321.17 1317.95,1322.48 1324.06,1323.75 1330.16,1325.00 1336.27,1326.22 1342.37,1327.41 1348.48,1328.57 1354.58,1329.69 1360.69,1330.78 1366.79,1331.85 1372.90,1332.88 1379.00,1333.89 1385.11,1334.87 1391.21,1335.83 1397.32,1336.77 1403.42,1337.69 1409.53,1338.60 1415.63,1339.49 1421.74,1340.36 1427.84,1341.23 1433.95,1342.08 1440.05,1342.93 1446.16,1343.77 1452.26,1344.60 1458.37,1345.42 1464.47,1346.24 1470.58,1347.05 1476.68,1347.86 1482.79,1348.66 1488.89,1349.46 1495.00,1350.25 1501.10,1351.05 1507.21,1351.84 1513.31,1352.62 1519.42,1353.41 1525.52,1354.19 1531.63,1354.97 1537.73,1355.75 1543.84,1356.52 1549.94,1357.30 1556.05,1358.07" fill="none" stroke="#222" stroke-width="1.6" stroke-dasharray="4 2.4"/>
<polyline points="1195.85,1316.30 1201.96,1317.10 1208.06,1317.90 1214.17,1318.70 1220.27,1319.51 1226.38,1320.33 1232.48,1321.15 1238.59,1321.97 1244.69,1322.80 1250.80,1323.64 1256.90,1324.49 1263.01,1325.35 1269.11,1326.22 1275.22,1327.10 1281.32,1327.99 1287.43,1328.90 1293.53,1329.83 1299.64,1330.77 1305.74,1331.74 1311.85,1332.73 1317.95,1333.74 1324.06,1334.79 1330.16,1335.86 1336.27,1336.96 1342.37,1338.09 1348.48,1339.26 1354.58,1340.45 1360.69,1341.68 1366.79,1342.94 1372.90,1344.23 1379.00,1345.54 1385.11,1346.88 1391.21,1348.24 1397.32,1349.63 1403.42,1351.03 1409.53,1352.44 1415.63,1353.87 1421.74,1355.32 1427.84,1356.77 1433.95,1358.24 1440.05,1359.72 1446.16,1361.20 1452.26,1362.69 1458.37,1364.19 1464.47,1365.69 1470.58,1367.20 1476.68,1368.72 1482.79,1370.24 1488.89,1371.76 1495.00,1373.29 1501.10,1374.81 1507.21,1376.35 1513.31,1377.88 1519.42,1379.42 1525.52,1380.96 1531.63,1382.50 1537.73,1384.04 1543.84,1385.59 1549.94,1387.13 1556.05,1388.68" fill="none" stroke="#222" stroke-width="1.6" stroke-dasharray="4 2.4"/>
<polyline points="1195.85,1304.90 1201.96,1306.06 1208.06,1307.22 1214.17,1308.38 1220.27,1309.54 1226.38,1310.70 1232.48,1311.86 1238.59,1313.02 1244.69,1314.18 1250.80,1315.34 1256.90,1316.50 1263.01,1317.66 1269.11,1318.82 1275.22,1319.98 1281.32,1321.14 1287.43,1322.31 1293.53,1323.47 1299.64,1324.63 1305.74,1325.79 1311.85,1326.95 1317.95,1328.11 1324.06,1329.27 1330.16,1330.43 1336.27,1331.59 1342.37,1332.75 1348.48,1333.91 1354.58,1335.07 1360.69,1336.23 1366.79,1337.39 1372.90,1338.56 1379.00,1339.72 1385.11,1340.88 1391.21,1342.04 1397.32,1343.20 1403.42,1344.36 1409.53,1345.52 1415.63,1346.68 1421.74,1347.84 1427.84,1349.00 1433.95,1350.16 1440.05,1351.32 1446.16,1352.48 1452.26,1353.64 1458.37,1354.81 1464.47,1355.97 1470.58,1357.13 1476.68,1358.29 1482.79,1359.45 1488.89,1360.61 1495.00,1361.77 1501.10,1362.93 1507.21,1364.09 1513.31,1365.25 1519.42,1366.41 1525.52,1367.57 1531.63,1368.73 1537.73,1369.89 1543.84,1371.05 1549.94,1372.22 1556.05,1373.38" fill="none" stroke="#1a1a1a" stroke-width="1.85"/>
<circle cx="1362.85" cy="1348.55" r="4.50" fill="#d90000"/>
<circle cx="1399.75" cy="1356.46" r="4.50" fill="#d90000"/>
<circle cx="1405.35" cy="1354.25" r="4.50" fill="#d90000"/>
<circle cx="1413.05" cy="1357.36" r="4.50" fill="#d90000"/>
<circle cx="1422.35" cy="1363.26" r="4.50" fill="#d90000"/>
<circle cx="1427.95" cy="1359.86" r="4.50" fill="#d90000"/>
<circle cx="1479.85" cy="1355.56" r="4.50" fill="#d90000"/>
<circle cx="1485.55" cy="1355.56" r="4.50" fill="#d90000"/>
<circle cx="1556.05" cy="1357.26" r="4.50" fill="#d90000"/>
<polygon points="1242.95,1322.03 1247.45,1330.63 1238.45,1330.63" fill="#0000ff"/>
<polygon points="1247.25,1329.54 1251.75,1338.14 1242.75,1338.14" fill="#0000ff"/>
<polygon points="1271.75,1336.94 1276.25,1345.54 1267.25,1345.54" fill="#0000ff"/>
<polygon points="1299.35,1334.64 1303.85,1343.24 1294.85,1343.24" fill="#0000ff"/>
<polygon points="1305.95,1328.43 1310.45,1337.03 1301.45,1337.03" fill="#0000ff"/>
<polygon points="1330.95,1341.45 1335.45,1350.05 1326.45,1350.05" fill="#0000ff"/>
<polygon points="1334.95,1347.65 1339.45,1356.25 1330.45,1356.25" fill="#0000ff"/>
<polygon points="1374.15,1325.63 1378.65,1334.23 1369.65,1334.23" fill="#0000ff"/>
<polygon points="1385.05,1330.74 1389.55,1339.34 1380.55,1339.34" fill="#0000ff"/>
<rect x="1310.35" y="1340.34" width="7.40" height="7.40" fill="#4a7f20"/>
<rect x="1319.35" y="1325.43" width="7.40" height="7.40" fill="#4a7f20"/>
<rect x="1331.25" y="1313.42" width="7.40" height="7.40" fill="#4a7f20"/>
<rect x="1339.15" y="1329.03" width="7.40" height="7.40" fill="#4a7f20"/>
<rect x="1356.45" y="1324.53" width="7.40" height="7.40" fill="#4a7f20"/>
<rect x="1374.05" y="1320.93" width="7.40" height="7.40" fill="#4a7f20"/>
<rect x="1378.05" y="1337.54" width="7.40" height="7.40" fill="#4a7f20"/>
<rect x="1408.65" y="1337.24" width="7.40" height="7.40" fill="#4a7f20"/>
<polygon points="1195.85,1298.01 1202.15,1304.51 1195.85,1311.01 1189.55,1304.51" fill="#f2d32f"/>
<polygon points="1229.05,1295.51 1235.35,1302.01 1229.05,1308.51 1222.75,1302.01" fill="#f2d32f"/>
<polygon points="1273.05,1275.19 1279.35,1281.69 1273.05,1288.19 1266.75,1281.69" fill="#f2d32f"/>
<polygon points="1276.35,1275.19 1282.65,1281.69 1276.35,1288.19 1270.05,1281.69" fill="#f2d32f"/>
<polygon points="1277.35,1295.21 1283.65,1301.71 1277.35,1308.21 1271.05,1301.71" fill="#f2d32f"/>
<polygon points="1262.55,1310.52 1268.85,1317.02 1262.55,1323.52 1256.25,1317.02" fill="#f2d32f"/>
<polygon points="1265.45,1309.32 1271.75,1315.82 1265.45,1322.32 1259.15,1315.82" fill="#f2d32f"/>
<polygon points="1342.25,1314.62 1348.55,1321.12 1342.25,1327.62 1335.95,1321.12" fill="#f2d32f"/>
<text transform="translate(916.0,1336.3) rotate(-90)" x="0" y="0" font-size="24" text-anchor="middle" fill="#111" textLength="132.5" lengthAdjust="spacingAndGlyphs" stroke="#111" stroke-width="0.35">Cavg (ng/mL)</text>
<rect x="171.00" y="1425.00" width="712.50" height="148.90" fill="none" stroke="#222" stroke-width="1.8" stroke-linejoin="round"/>
<line x1="159.00" y1="1431.25" x2="171.00" y2="1431.25" stroke="#222" stroke-width="1.7"/>
<text x="153.0" y="1441.0" font-size="26" text-anchor="end" fill="#111" textLength="52.1" lengthAdjust="spacingAndGlyphs" stroke="#111" stroke-width="0.35">5000</text>
<line x1="159.00" y1="1476.65" x2="171.00" y2="1476.65" stroke="#222" stroke-width="1.7"/>
<text x="153.0" y="1486.5" font-size="26" text-anchor="end" fill="#111" textLength="52.1" lengthAdjust="spacingAndGlyphs" stroke="#111" stroke-width="0.35">3000</text>
<line x1="159.00" y1="1522.05" x2="171.00" y2="1522.05" stroke="#222" stroke-width="1.7"/>
<text x="153.0" y="1531.8" font-size="26" text-anchor="end" fill="#111" textLength="52.1" lengthAdjust="spacingAndGlyphs" stroke="#111" stroke-width="0.35">1000</text>
<line x1="159.00" y1="1567.45" x2="171.00" y2="1567.45" stroke="#222" stroke-width="1.7"/>
<text x="153.0" y="1577.2" font-size="26" text-anchor="end" fill="#111" textLength="59.8" lengthAdjust="spacingAndGlyphs" stroke="#111" stroke-width="0.35">-1000</text>
<polyline points="311.10,1461.52 317.21,1463.04 323.31,1464.56 329.42,1466.08 335.52,1467.59 341.63,1469.09 347.73,1470.59 353.84,1472.09 359.94,1473.58 366.05,1475.06 372.15,1476.53 378.26,1477.99 384.36,1479.44 390.47,1480.88 396.57,1482.30 402.68,1483.71 408.78,1485.11 414.89,1486.48 420.99,1487.84 427.10,1489.17 433.20,1490.47 439.31,1491.75 445.41,1493.00 451.52,1494.21 457.62,1495.40 463.73,1496.55 469.83,1497.68 475.94,1498.77 482.04,1499.83 488.15,1500.86 494.25,1501.87 500.36,1502.85 506.46,1503.81 512.57,1504.75 518.67,1505.67 524.78,1506.57 530.88,1507.46 536.99,1508.34 543.09,1509.20 549.20,1510.05 555.30,1510.90 561.41,1511.73 567.51,1512.56 573.62,1513.38 579.72,1514.20 585.83,1515.01 591.93,1515.82 598.04,1516.62 604.14,1517.42 610.25,1518.21 616.35,1519.00 622.46,1519.79 628.56,1520.58 634.67,1521.36 640.77,1522.14 646.88,1522.92 652.98,1523.70 659.09,1524.47 665.19,1525.25 671.30,1526.02" fill="none" stroke="#cfcfcf" stroke-width="1.5"/>
<polyline points="311.10,1484.31 317.21,1485.10 323.31,1485.90 329.42,1486.70 335.52,1487.51 341.63,1488.32 347.73,1489.14 353.84,1489.97 359.94,1490.80 366.05,1491.63 372.15,1492.48 378.26,1493.34 384.36,1494.21 390.47,1495.09 396.57,1495.98 402.68,1496.89 408.78,1497.81 414.89,1498.76 420.99,1499.72 427.10,1500.71 433.20,1501.72 439.31,1502.76 445.41,1503.83 451.52,1504.93 457.62,1506.07 463.73,1507.23 469.83,1508.43 475.94,1509.65 482.04,1510.91 488.15,1512.20 494.25,1513.51 500.36,1514.85 506.46,1516.21 512.57,1517.59 518.67,1518.98 524.78,1520.40 530.88,1521.83 536.99,1523.27 543.09,1524.73 549.20,1526.19 555.30,1527.66 561.41,1529.15 567.51,1530.64 573.62,1532.13 579.72,1533.63 585.83,1535.14 591.93,1536.65 598.04,1538.17 604.14,1539.69 610.25,1541.21 616.35,1542.74 622.46,1544.27 628.56,1545.80 634.67,1547.34 640.77,1548.88 646.88,1550.42 652.98,1551.96 659.09,1553.50 665.19,1555.05 671.30,1556.59" fill="none" stroke="#cfcfcf" stroke-width="1.5"/>
<polyline points="311.10,1461.52 317.21,1463.04 323.31,1464.56 329.42,1466.08 335.52,1467.59 341.63,1469.09 347.73,1470.59 353.84,1472.09 359.94,1473.58 366.05,1475.06 372.15,1476.53 378.26,1477.99 384.36,1479.44 390.47,1480.88 396.57,1482.30 402.68,1483.71 408.78,1485.11 414.89,1486.48 420.99,1487.84 427.10,1489.17 433.20,1490.47 439.31,1491.75 445.41,1493.00 451.52,1494.21 457.62,1495.40 463.73,1496.55 469.83,1497.68 475.94,1498.77 482.04,1499.83 488.15,1500.86 494.25,1501.87 500.36,1502.85 506.46,1503.81 512.57,1504.75 518.67,1505.67 524.78,1506.57 530.88,1507.46 536.99,1508.34 543.09,1509.20 549.20,1510.05 555.30,1510.90 561.41,1511.73 567.51,1512.56 573.62,1513.38 579.72,1514.20 585.83,1515.01 591.93,1515.82 598.04,1516.62 604.14,1517.42 610.25,1518.21 616.35,1519.00 622.46,1519.79 628.56,1520.58 634.67,1521.36 640.77,1522.14 646.88,1522.92 652.98,1523.70 659.09,1524.47 665.19,1525.25 671.30,1526.02" fill="none" stroke="#222" stroke-width="1.6" stroke-dasharray="4 2.4"/>
<polyline points="311.10,1484.31 317.21,1485.10 323.31,1485.90 329.42,1486.70 335.52,1487.51 341.63,1488.32 347.73,1489.14 353.84,1489.97 359.94,1490.80 366.05,1491.63 372.15,1492.48 378.26,1493.34 384.36,1494.21 390.47,1495.09 396.57,1495.98 402.68,1496.89 408.78,1497.81 414.89,1498.76 420.99,1499.72 427.10,1500.71 433.20,1501.72 439.31,1502.76 445.41,1503.83 451.52,1504.93 457.62,1506.07 463.73,1507.23 469.83,1508.43 475.94,1509.65 482.04,1510.91 488.15,1512.20 494.25,1513.51 500.36,1514.85 506.46,1516.21 512.57,1517.59 518.67,1518.98 524.78,1520.40 530.88,1521.83 536.99,1523.27 543.09,1524.73 549.20,1526.19 555.30,1527.66 561.41,1529.15 567.51,1530.64 573.62,1532.13 579.72,1533.63 585.83,1535.14 591.93,1536.65 598.04,1538.17 604.14,1539.69 610.25,1541.21 616.35,1542.74 622.46,1544.27 628.56,1545.80 634.67,1547.34 640.77,1548.88 646.88,1550.42 652.98,1551.96 659.09,1553.50 665.19,1555.05 671.30,1556.59" fill="none" stroke="#222" stroke-width="1.6" stroke-dasharray="4 2.4"/>
<polyline points="311.10,1472.91 317.21,1474.07 323.31,1475.23 329.42,1476.39 335.52,1477.55 341.63,1478.71 347.73,1479.87 353.84,1481.03 359.94,1482.19 366.05,1483.35 372.15,1484.50 378.26,1485.66 384.36,1486.82 390.47,1487.98 396.57,1489.14 402.68,1490.30 408.78,1491.46 414.89,1492.62 420.99,1493.78 427.10,1494.94 433.20,1496.10 439.31,1497.26 445.41,1498.41 451.52,1499.57 457.62,1500.73 463.73,1501.89 469.83,1503.05 475.94,1504.21 482.04,1505.37 488.15,1506.53 494.25,1507.69 500.36,1508.85 506.46,1510.01 512.57,1511.17 518.67,1512.33 524.78,1513.48 530.88,1514.64 536.99,1515.80 543.09,1516.96 549.20,1518.12 555.30,1519.28 561.41,1520.44 567.51,1521.60 573.62,1522.76 579.72,1523.92 585.83,1525.08 591.93,1526.24 598.04,1527.40 604.14,1528.55 610.25,1529.71 616.35,1530.87 622.46,1532.03 628.56,1533.19 634.67,1534.35 640.77,1535.51 646.88,1536.67 652.98,1537.83 659.09,1538.99 665.19,1540.15 671.30,1541.31" fill="none" stroke="#1a1a1a" stroke-width="1.85"/>
<circle cx="478.10" cy="1516.51" r="4.50" fill="#d90000"/>
<circle cx="515.00" cy="1524.41" r="4.50" fill="#d90000"/>
<circle cx="520.60" cy="1522.21" r="4.50" fill="#d90000"/>
<circle cx="528.30" cy="1525.31" r="4.50" fill="#d90000"/>
<circle cx="537.60" cy="1531.20" r="4.50" fill="#d90000"/>
<circle cx="543.20" cy="1527.81" r="4.50" fill="#d90000"/>
<circle cx="595.10" cy="1523.51" r="4.50" fill="#d90000"/>
<circle cx="600.80" cy="1523.51" r="4.50" fill="#d90000"/>
<circle cx="671.30" cy="1525.21" r="4.50" fill="#d90000"/>
<polygon points="358.20,1490.02 362.70,1498.62 353.70,1498.62" fill="#0000ff"/>
<polygon points="362.50,1497.52 367.00,1506.12 358.00,1506.12" fill="#0000ff"/>
<polygon points="387.00,1504.91 391.50,1513.51 382.50,1513.51" fill="#0000ff"/>
<polygon points="414.60,1502.61 419.10,1511.21 410.10,1511.21" fill="#0000ff"/>
<polygon points="421.20,1496.42 425.70,1505.02 416.70,1505.02" fill="#0000ff"/>
<polygon points="446.20,1509.41 450.70,1518.01 441.70,1518.01" fill="#0000ff"/>
<polygon points="450.20,1515.61 454.70,1524.21 445.70,1524.21" fill="#0000ff"/>
<polygon points="489.40,1493.62 493.90,1502.22 484.90,1502.22" fill="#0000ff"/>
<polygon points="500.30,1498.72 504.80,1507.32 495.80,1507.32" fill="#0000ff"/>
<rect x="425.60" y="1508.31" width="7.40" height="7.40" fill="#4a7f20"/>
<rect x="434.60" y="1493.42" width="7.40" height="7.40" fill="#4a7f20"/>
<rect x="446.50" y="1481.42" width="7.40" height="7.40" fill="#4a7f20"/>
<rect x="454.40" y="1497.02" width="7.40" height="7.40" fill="#4a7f20"/>
<rect x="471.70" y="1492.52" width="7.40" height="7.40" fill="#4a7f20"/>
<rect x="489.30" y="1488.92" width="7.40" height="7.40" fill="#4a7f20"/>
<rect x="493.30" y="1505.51" width="7.40" height="7.40" fill="#4a7f20"/>
<rect x="523.90" y="1505.21" width="7.40" height="7.40" fill="#4a7f20"/>
<polygon points="311.10,1466.03 317.40,1472.53 311.10,1479.03 304.80,1472.53" fill="#f2d32f"/>
<polygon points="344.30,1463.53 350.60,1470.03 344.30,1476.53 338.00,1470.03" fill="#f2d32f"/>
<polygon points="388.30,1443.23 394.60,1449.73 388.30,1456.23 382.00,1449.73" fill="#f2d32f"/>
<polygon points="391.60,1443.23 397.90,1449.73 391.60,1456.23 385.30,1449.73" fill="#f2d32f"/>
<polygon points="392.60,1463.23 398.90,1469.73 392.60,1476.23 386.30,1469.73" fill="#f2d32f"/>
<polygon points="377.80,1478.52 384.10,1485.02 377.80,1491.52 371.50,1485.02" fill="#f2d32f"/>
<polygon points="380.70,1477.32 387.00,1483.82 380.70,1490.32 374.40,1483.82" fill="#f2d32f"/>
<polygon points="457.50,1482.62 463.80,1489.12 457.50,1495.62 451.20,1489.12" fill="#f2d32f"/>
<text transform="translate(32.0,1499.4) rotate(-90)" x="0" y="0" font-size="24" text-anchor="middle" fill="#111" textLength="78.8" lengthAdjust="spacingAndGlyphs" stroke="#111" stroke-width="0.35">AUC0-τ</text>
<text transform="translate(59.5,1500.5) rotate(-90)" x="0" y="0" font-size="24" text-anchor="middle" fill="#111" textLength="101.0" lengthAdjust="spacingAndGlyphs" stroke="#111" stroke-width="0.35">(h*ng/mL)</text>
<rect x="1055.75" y="1425.00" width="712.50" height="148.90" fill="none" stroke="#222" stroke-width="1.8" stroke-linejoin="round"/>
<line x1="1043.25" y1="1567.45" x2="1055.75" y2="1567.45" stroke="#222" stroke-width="1.6"/>
<line x1="1048.85" y1="1565.18" x2="1055.75" y2="1565.18" stroke="#000" stroke-width="2.0"/>
<line x1="1048.85" y1="1562.91" x2="1055.75" y2="1562.91" stroke="#000" stroke-width="2.0"/>
<line x1="1048.85" y1="1560.64" x2="1055.75" y2="1560.64" stroke="#000" stroke-width="2.0"/>
<line x1="1048.85" y1="1558.37" x2="1055.75" y2="1558.37" stroke="#000" stroke-width="2.0"/>
<line x1="1048.85" y1="1556.10" x2="1055.75" y2="1556.10" stroke="#000" stroke-width="2.0"/>
<line x1="1048.85" y1="1553.83" x2="1055.75" y2="1553.83" stroke="#000" stroke-width="2.0"/>
<line x1="1048.85" y1="1551.56" x2="1055.75" y2="1551.56" stroke="#000" stroke-width="2.0"/>
<line x1="1048.85" y1="1549.29" x2="1055.75" y2="1549.29" stroke="#000" stroke-width="2.0"/>
<line x1="1048.85" y1="1547.02" x2="1055.75" y2="1547.02" stroke="#000" stroke-width="2.0"/>
<line x1="1043.25" y1="1544.75" x2="1055.75" y2="1544.75" stroke="#222" stroke-width="1.6"/>
<line x1="1048.85" y1="1542.48" x2="1055.75" y2="1542.48" stroke="#000" stroke-width="2.0"/>
<line x1="1048.85" y1="1540.21" x2="1055.75" y2="1540.21" stroke="#000" stroke-width="2.0"/>
<line x1="1048.85" y1="1537.94" x2="1055.75" y2="1537.94" stroke="#000" stroke-width="2.0"/>
<line x1="1048.85" y1="1535.67" x2="1055.75" y2="1535.67" stroke="#000" stroke-width="2.0"/>
<line x1="1048.85" y1="1533.40" x2="1055.75" y2="1533.40" stroke="#000" stroke-width="2.0"/>
<line x1="1048.85" y1="1531.13" x2="1055.75" y2="1531.13" stroke="#000" stroke-width="2.0"/>
<line x1="1048.85" y1="1528.86" x2="1055.75" y2="1528.86" stroke="#000" stroke-width="2.0"/>
<line x1="1048.85" y1="1526.59" x2="1055.75" y2="1526.59" stroke="#000" stroke-width="2.0"/>
<line x1="1048.85" y1="1524.32" x2="1055.75" y2="1524.32" stroke="#000" stroke-width="2.0"/>
<line x1="1043.25" y1="1522.05" x2="1055.75" y2="1522.05" stroke="#222" stroke-width="1.6"/>
<line x1="1048.85" y1="1519.78" x2="1055.75" y2="1519.78" stroke="#000" stroke-width="2.0"/>
<line x1="1048.85" y1="1517.51" x2="1055.75" y2="1517.51" stroke="#000" stroke-width="2.0"/>
<line x1="1048.85" y1="1515.24" x2="1055.75" y2="1515.24" stroke="#000" stroke-width="2.0"/>
<line x1="1048.85" y1="1512.97" x2="1055.75" y2="1512.97" stroke="#000" stroke-width="2.0"/>
<line x1="1048.85" y1="1510.70" x2="1055.75" y2="1510.70" stroke="#000" stroke-width="2.0"/>
<line x1="1048.85" y1="1508.43" x2="1055.75" y2="1508.43" stroke="#000" stroke-width="2.0"/>
<line x1="1048.85" y1="1506.16" x2="1055.75" y2="1506.16" stroke="#000" stroke-width="2.0"/>
<line x1="1048.85" y1="1503.89" x2="1055.75" y2="1503.89" stroke="#000" stroke-width="2.0"/>
<line x1="1048.85" y1="1501.62" x2="1055.75" y2="1501.62" stroke="#000" stroke-width="2.0"/>
<line x1="1043.25" y1="1499.35" x2="1055.75" y2="1499.35" stroke="#222" stroke-width="1.6"/>
<line x1="1048.85" y1="1497.08" x2="1055.75" y2="1497.08" stroke="#000" stroke-width="2.0"/>
<line x1="1048.85" y1="1494.81" x2="1055.75" y2="1494.81" stroke="#000" stroke-width="2.0"/>
<line x1="1048.85" y1="1492.54" x2="1055.75" y2="1492.54" stroke="#000" stroke-width="2.0"/>
<line x1="1048.85" y1="1490.27" x2="1055.75" y2="1490.27" stroke="#000" stroke-width="2.0"/>
<line x1="1048.85" y1="1488.00" x2="1055.75" y2="1488.00" stroke="#000" stroke-width="2.0"/>
<line x1="1048.85" y1="1485.73" x2="1055.75" y2="1485.73" stroke="#000" stroke-width="2.0"/>
<line x1="1048.85" y1="1483.46" x2="1055.75" y2="1483.46" stroke="#000" stroke-width="2.0"/>
<line x1="1048.85" y1="1481.19" x2="1055.75" y2="1481.19" stroke="#000" stroke-width="2.0"/>
<line x1="1048.85" y1="1478.92" x2="1055.75" y2="1478.92" stroke="#000" stroke-width="2.0"/>
<line x1="1043.25" y1="1476.65" x2="1055.75" y2="1476.65" stroke="#222" stroke-width="1.6"/>
<line x1="1048.85" y1="1474.38" x2="1055.75" y2="1474.38" stroke="#000" stroke-width="2.0"/>
<line x1="1048.85" y1="1472.11" x2="1055.75" y2="1472.11" stroke="#000" stroke-width="2.0"/>
<line x1="1048.85" y1="1469.84" x2="1055.75" y2="1469.84" stroke="#000" stroke-width="2.0"/>
<line x1="1048.85" y1="1467.57" x2="1055.75" y2="1467.57" stroke="#000" stroke-width="2.0"/>
<line x1="1048.85" y1="1465.30" x2="1055.75" y2="1465.30" stroke="#000" stroke-width="2.0"/>
<line x1="1048.85" y1="1463.03" x2="1055.75" y2="1463.03" stroke="#000" stroke-width="2.0"/>
<line x1="1048.85" y1="1460.76" x2="1055.75" y2="1460.76" stroke="#000" stroke-width="2.0"/>
<line x1="1048.85" y1="1458.49" x2="1055.75" y2="1458.49" stroke="#000" stroke-width="2.0"/>
<line x1="1048.85" y1="1456.22" x2="1055.75" y2="1456.22" stroke="#000" stroke-width="2.0"/>
<line x1="1043.25" y1="1453.95" x2="1055.75" y2="1453.95" stroke="#222" stroke-width="1.6"/>
<line x1="1048.85" y1="1451.68" x2="1055.75" y2="1451.68" stroke="#000" stroke-width="2.0"/>
<line x1="1048.85" y1="1449.41" x2="1055.75" y2="1449.41" stroke="#000" stroke-width="2.0"/>
<line x1="1048.85" y1="1447.14" x2="1055.75" y2="1447.14" stroke="#000" stroke-width="2.0"/>
<line x1="1048.85" y1="1444.87" x2="1055.75" y2="1444.87" stroke="#000" stroke-width="2.0"/>
<line x1="1048.85" y1="1442.60" x2="1055.75" y2="1442.60" stroke="#000" stroke-width="2.0"/>
<line x1="1048.85" y1="1440.33" x2="1055.75" y2="1440.33" stroke="#000" stroke-width="2.0"/>
<line x1="1048.85" y1="1438.06" x2="1055.75" y2="1438.06" stroke="#000" stroke-width="2.0"/>
<line x1="1048.85" y1="1435.79" x2="1055.75" y2="1435.79" stroke="#000" stroke-width="2.0"/>
<line x1="1048.85" y1="1433.52" x2="1055.75" y2="1433.52" stroke="#000" stroke-width="2.0"/>
<line x1="1043.25" y1="1431.25" x2="1055.75" y2="1431.25" stroke="#222" stroke-width="1.6"/>
<line x1="1043.75" y1="1431.25" x2="1055.75" y2="1431.25" stroke="#222" stroke-width="1.7"/>
<text x="1037.8" y="1441.0" font-size="26" text-anchor="end" fill="#111" textLength="52.1" lengthAdjust="spacingAndGlyphs" stroke="#111" stroke-width="0.35">5000</text>
<line x1="1043.75" y1="1476.65" x2="1055.75" y2="1476.65" stroke="#222" stroke-width="1.7"/>
<text x="1037.8" y="1486.5" font-size="26" text-anchor="end" fill="#111" textLength="52.1" lengthAdjust="spacingAndGlyphs" stroke="#111" stroke-width="0.35">3000</text>
<line x1="1043.75" y1="1522.05" x2="1055.75" y2="1522.05" stroke="#222" stroke-width="1.7"/>
<text x="1037.8" y="1531.8" font-size="26" text-anchor="end" fill="#111" textLength="52.1" lengthAdjust="spacingAndGlyphs" stroke="#111" stroke-width="0.35">1000</text>
<line x1="1043.75" y1="1567.45" x2="1055.75" y2="1567.45" stroke="#222" stroke-width="1.7"/>
<text x="1037.8" y="1577.2" font-size="26" text-anchor="end" fill="#111" textLength="59.8" lengthAdjust="spacingAndGlyphs" stroke="#111" stroke-width="0.35">-1000</text>
<polyline points="1195.85,1461.52 1201.96,1463.04 1208.06,1464.56 1214.17,1466.08 1220.27,1467.59 1226.38,1469.09 1232.48,1470.59 1238.59,1472.09 1244.69,1473.58 1250.80,1475.06 1256.90,1476.53 1263.01,1477.99 1269.11,1479.44 1275.22,1480.88 1281.32,1482.30 1287.43,1483.71 1293.53,1485.11 1299.64,1486.48 1305.74,1487.84 1311.85,1489.17 1317.95,1490.47 1324.06,1491.75 1330.16,1493.00 1336.27,1494.21 1342.37,1495.40 1348.48,1496.55 1354.58,1497.68 1360.69,1498.77 1366.79,1499.83 1372.90,1500.86 1379.00,1501.87 1385.11,1502.85 1391.21,1503.81 1397.32,1504.75 1403.42,1505.67 1409.53,1506.57 1415.63,1507.46 1421.74,1508.34 1427.84,1509.20 1433.95,1510.05 1440.05,1510.90 1446.16,1511.73 1452.26,1512.56 1458.37,1513.38 1464.47,1514.20 1470.58,1515.01 1476.68,1515.82 1482.79,1516.62 1488.89,1517.42 1495.00,1518.21 1501.10,1519.00 1507.21,1519.79 1513.31,1520.58 1519.42,1521.36 1525.52,1522.14 1531.63,1522.92 1537.73,1523.70 1543.84,1524.47 1549.94,1525.25 1556.05,1526.02" fill="none" stroke="#cfcfcf" stroke-width="1.5"/>
<polyline points="1195.85,1484.31 1201.96,1485.10 1208.06,1485.90 1214.17,1486.70 1220.27,1487.51 1226.38,1488.32 1232.48,1489.14 1238.59,1489.97 1244.69,1490.80 1250.80,1491.63 1256.90,1492.48 1263.01,1493.34 1269.11,1494.21 1275.22,1495.09 1281.32,1495.98 1287.43,1496.89 1293.53,1497.81 1299.64,1498.76 1305.74,1499.72 1311.85,1500.71 1317.95,1501.72 1324.06,1502.76 1330.16,1503.83 1336.27,1504.93 1342.37,1506.07 1348.48,1507.23 1354.58,1508.43 1360.69,1509.65 1366.79,1510.91 1372.90,1512.20 1379.00,1513.51 1385.11,1514.85 1391.21,1516.21 1397.32,1517.59 1403.42,1518.98 1409.53,1520.40 1415.63,1521.83 1421.74,1523.27 1427.84,1524.73 1433.95,1526.19 1440.05,1527.66 1446.16,1529.15 1452.26,1530.64 1458.37,1532.13 1464.47,1533.63 1470.58,1535.14 1476.68,1536.65 1482.79,1538.17 1488.89,1539.69 1495.00,1541.21 1501.10,1542.74 1507.21,1544.27 1513.31,1545.80 1519.42,1547.34 1525.52,1548.88 1531.63,1550.42 1537.73,1551.96 1543.84,1553.50 1549.94,1555.05 1556.05,1556.59" fill="none" stroke="#cfcfcf" stroke-width="1.5"/>
<polyline points="1195.85,1461.52 1201.96,1463.04 1208.06,1464.56 1214.17,1466.08 1220.27,1467.59 1226.38,1469.09 1232.48,1470.59 1238.59,1472.09 1244.69,1473.58 1250.80,1475.06 1256.90,1476.53 1263.01,1477.99 1269.11,1479.44 1275.22,1480.88 1281.32,1482.30 1287.43,1483.71 1293.53,1485.11 1299.64,1486.48 1305.74,1487.84 1311.85,1489.17 1317.95,1490.47 1324.06,1491.75 1330.16,1493.00 1336.27,1494.21 1342.37,1495.40 1348.48,1496.55 1354.58,1497.68 1360.69,1498.77 1366.79,1499.83 1372.90,1500.86 1379.00,1501.87 1385.11,1502.85 1391.21,1503.81 1397.32,1504.75 1403.42,1505.67 1409.53,1506.57 1415.63,1507.46 1421.74,1508.34 1427.84,1509.20 1433.95,1510.05 1440.05,1510.90 1446.16,1511.73 1452.26,1512.56 1458.37,1513.38 1464.47,1514.20 1470.58,1515.01 1476.68,1515.82 1482.79,1516.62 1488.89,1517.42 1495.00,1518.21 1501.10,1519.00 1507.21,1519.79 1513.31,1520.58 1519.42,1521.36 1525.52,1522.14 1531.63,1522.92 1537.73,1523.70 1543.84,1524.47 1549.94,1525.25 1556.05,1526.02" fill="none" stroke="#222" stroke-width="1.6" stroke-dasharray="4 2.4"/>
<polyline points="1195.85,1484.31 1201.96,1485.10 1208.06,1485.90 1214.17,1486.70 1220.27,1487.51 1226.38,1488.32 1232.48,1489.14 1238.59,1489.97 1244.69,1490.80 1250.80,1491.63 1256.90,1492.48 1263.01,1493.34 1269.11,1494.21 1275.22,1495.09 1281.32,1495.98 1287.43,1496.89 1293.53,1497.81 1299.64,1498.76 1305.74,1499.72 1311.85,1500.71 1317.95,1501.72 1324.06,1502.76 1330.16,1503.83 1336.27,1504.93 1342.37,1506.07 1348.48,1507.23 1354.58,1508.43 1360.69,1509.65 1366.79,1510.91 1372.90,1512.20 1379.00,1513.51 1385.11,1514.85 1391.21,1516.21 1397.32,1517.59 1403.42,1518.98 1409.53,1520.40 1415.63,1521.83 1421.74,1523.27 1427.84,1524.73 1433.95,1526.19 1440.05,1527.66 1446.16,1529.15 1452.26,1530.64 1458.37,1532.13 1464.47,1533.63 1470.58,1535.14 1476.68,1536.65 1482.79,1538.17 1488.89,1539.69 1495.00,1541.21 1501.10,1542.74 1507.21,1544.27 1513.31,1545.80 1519.42,1547.34 1525.52,1548.88 1531.63,1550.42 1537.73,1551.96 1543.84,1553.50 1549.94,1555.05 1556.05,1556.59" fill="none" stroke="#222" stroke-width="1.6" stroke-dasharray="4 2.4"/>
<polyline points="1195.85,1472.91 1201.96,1474.07 1208.06,1475.23 1214.17,1476.39 1220.27,1477.55 1226.38,1478.71 1232.48,1479.87 1238.59,1481.03 1244.69,1482.19 1250.80,1483.35 1256.90,1484.50 1263.01,1485.66 1269.11,1486.82 1275.22,1487.98 1281.32,1489.14 1287.43,1490.30 1293.53,1491.46 1299.64,1492.62 1305.74,1493.78 1311.85,1494.94 1317.95,1496.10 1324.06,1497.26 1330.16,1498.41 1336.27,1499.57 1342.37,1500.73 1348.48,1501.89 1354.58,1503.05 1360.69,1504.21 1366.79,1505.37 1372.90,1506.53 1379.00,1507.69 1385.11,1508.85 1391.21,1510.01 1397.32,1511.17 1403.42,1512.33 1409.53,1513.48 1415.63,1514.64 1421.74,1515.80 1427.84,1516.96 1433.95,1518.12 1440.05,1519.28 1446.16,1520.44 1452.26,1521.60 1458.37,1522.76 1464.47,1523.92 1470.58,1525.08 1476.68,1526.24 1482.79,1527.40 1488.89,1528.55 1495.00,1529.71 1501.10,1530.87 1507.21,1532.03 1513.31,1533.19 1519.42,1534.35 1525.52,1535.51 1531.63,1536.67 1537.73,1537.83 1543.84,1538.99 1549.94,1540.15 1556.05,1541.31" fill="none" stroke="#1a1a1a" stroke-width="1.85"/>
<circle cx="1362.85" cy="1516.51" r="4.50" fill="#d90000"/>
<circle cx="1399.75" cy="1524.41" r="4.50" fill="#d90000"/>
<circle cx="1405.35" cy="1522.21" r="4.50" fill="#d90000"/>
<circle cx="1413.05" cy="1525.31" r="4.50" fill="#d90000"/>
<circle cx="1422.35" cy="1531.20" r="4.50" fill="#d90000"/>
<circle cx="1427.95" cy="1527.81" r="4.50" fill="#d90000"/>
<circle cx="1479.85" cy="1523.51" r="4.50" fill="#d90000"/>
<circle cx="1485.55" cy="1523.51" r="4.50" fill="#d90000"/>
<circle cx="1556.05" cy="1525.21" r="4.50" fill="#d90000"/>
<polygon points="1242.95,1490.02 1247.45,1498.62 1238.45,1498.62" fill="#0000ff"/>
<polygon points="1247.25,1497.52 1251.75,1506.12 1242.75,1506.12" fill="#0000ff"/>
<polygon points="1271.75,1504.91 1276.25,1513.51 1267.25,1513.51" fill="#0000ff"/>
<polygon points="1299.35,1502.61 1303.85,1511.21 1294.85,1511.21" fill="#0000ff"/>
<polygon points="1305.95,1496.42 1310.45,1505.02 1301.45,1505.02" fill="#0000ff"/>
<polygon points="1330.95,1509.41 1335.45,1518.01 1326.45,1518.01" fill="#0000ff"/>
<polygon points="1334.95,1515.61 1339.45,1524.21 1330.45,1524.21" fill="#0000ff"/>
<polygon points="1374.15,1493.62 1378.65,1502.22 1369.65,1502.22" fill="#0000ff"/>
<polygon points="1385.05,1498.72 1389.55,1507.32 1380.55,1507.32" fill="#0000ff"/>
<rect x="1310.35" y="1508.31" width="7.40" height="7.40" fill="#4a7f20"/>
<rect x="1319.35" y="1493.42" width="7.40" height="7.40" fill="#4a7f20"/>
<rect x="1331.25" y="1481.42" width="7.40" height="7.40" fill="#4a7f20"/>
<rect x="1339.15" y="1497.02" width="7.40" height="7.40" fill="#4a7f20"/>
<rect x="1356.45" y="1492.52" width="7.40" height="7.40" fill="#4a7f20"/>
<rect x="1374.05" y="1488.92" width="7.40" height="7.40" fill="#4a7f20"/>
<rect x="1378.05" y="1505.51" width="7.40" height="7.40" fill="#4a7f20"/>
<rect x="1408.65" y="1505.21" width="7.40" height="7.40" fill="#4a7f20"/>
<polygon points="1195.85,1466.03 1202.15,1472.53 1195.85,1479.03 1189.55,1472.53" fill="#f2d32f"/>
<polygon points="1229.05,1463.53 1235.35,1470.03 1229.05,1476.53 1222.75,1470.03" fill="#f2d32f"/>
<polygon points="1273.05,1443.23 1279.35,1449.73 1273.05,1456.23 1266.75,1449.73" fill="#f2d32f"/>
<polygon points="1276.35,1443.23 1282.65,1449.73 1276.35,1456.23 1270.05,1449.73" fill="#f2d32f"/>
<polygon points="1277.35,1463.23 1283.65,1469.73 1277.35,1476.23 1271.05,1469.73" fill="#f2d32f"/>
<polygon points="1262.55,1478.52 1268.85,1485.02 1262.55,1491.52 1256.25,1485.02" fill="#f2d32f"/>
<polygon points="1265.45,1477.32 1271.75,1483.82 1265.45,1490.32 1259.15,1483.82" fill="#f2d32f"/>
<polygon points="1342.25,1482.62 1348.55,1489.12 1342.25,1495.62 1335.95,1489.12" fill="#f2d32f"/>
<text transform="translate(917.0,1499.4) rotate(-90)" x="0" y="0" font-size="24" text-anchor="middle" fill="#111" textLength="78.8" lengthAdjust="spacingAndGlyphs" stroke="#111" stroke-width="0.35">AUC0-τ</text>
<text transform="translate(944.5,1500.5) rotate(-90)" x="0" y="0" font-size="24" text-anchor="middle" fill="#111" textLength="101.0" lengthAdjust="spacingAndGlyphs" stroke="#111" stroke-width="0.35">(h*ng/mL)</text>
<rect x="171.00" y="1589.50" width="712.50" height="148.70" fill="none" stroke="#222" stroke-width="1.8" stroke-linejoin="round"/>
<line x1="159.00" y1="1595.00" x2="171.00" y2="1595.00" stroke="#222" stroke-width="1.7"/>
<text x="153.0" y="1604.8" font-size="26" text-anchor="end" fill="#111" textLength="65.1" lengthAdjust="spacingAndGlyphs" stroke="#111" stroke-width="0.35">15000</text>
<line x1="159.00" y1="1628.90" x2="171.00" y2="1628.90" stroke="#222" stroke-width="1.7"/>
<text x="153.0" y="1638.7" font-size="26" text-anchor="end" fill="#111" textLength="65.1" lengthAdjust="spacingAndGlyphs" stroke="#111" stroke-width="0.35">10000</text>
<line x1="159.00" y1="1662.80" x2="171.00" y2="1662.80" stroke="#222" stroke-width="1.7"/>
<text x="153.0" y="1672.6" font-size="26" text-anchor="end" fill="#111" textLength="52.1" lengthAdjust="spacingAndGlyphs" stroke="#111" stroke-width="0.35">5000</text>
<line x1="159.00" y1="1696.70" x2="171.00" y2="1696.70" stroke="#222" stroke-width="1.7"/>
<text x="153.0" y="1706.5" font-size="26" text-anchor="end" fill="#111" textLength="13.0" lengthAdjust="spacingAndGlyphs" stroke="#111" stroke-width="0.35">0</text>
<line x1="159.00" y1="1730.60" x2="171.00" y2="1730.60" stroke="#222" stroke-width="1.7"/>
<text x="153.0" y="1740.4" font-size="26" text-anchor="end" fill="#111" textLength="59.8" lengthAdjust="spacingAndGlyphs" stroke="#111" stroke-width="0.35">-5000</text>
<polyline points="311.10,1636.91 317.21,1638.16 323.31,1639.41 329.42,1640.66 335.52,1641.90 341.63,1643.14 347.73,1644.37 353.84,1645.60 359.94,1646.82 366.05,1648.03 372.15,1649.24 378.26,1650.44 384.36,1651.62 390.47,1652.80 396.57,1653.96 402.68,1655.12 408.78,1656.25 414.89,1657.37 420.99,1658.47 427.10,1659.54 433.20,1660.60 439.31,1661.63 445.41,1662.63 451.52,1663.60 457.62,1664.55 463.73,1665.46 469.83,1666.35 475.94,1667.21 482.04,1668.04 488.15,1668.85 494.25,1669.63 500.36,1670.39 506.46,1671.12 512.57,1671.84 518.67,1672.54 524.78,1673.23 530.88,1673.91 536.99,1674.57 543.09,1675.22 549.20,1675.86 555.30,1676.49 561.41,1677.12 567.51,1677.74 573.62,1678.35 579.72,1678.96 585.83,1679.56 591.93,1680.16 598.04,1680.75 604.14,1681.34 610.25,1681.93 616.35,1682.51 622.46,1683.09 628.56,1683.67 634.67,1684.25 640.77,1684.83 646.88,1685.40 652.98,1685.97 659.09,1686.54 665.19,1687.11 671.30,1687.68" fill="none" stroke="#cfcfcf" stroke-width="1.5"/>
<polyline points="311.10,1657.74 317.21,1658.33 323.31,1658.92 329.42,1659.52 335.52,1660.12 341.63,1660.72 347.73,1661.33 353.84,1661.95 359.94,1662.57 366.05,1663.19 372.15,1663.83 378.26,1664.47 384.36,1665.13 390.47,1665.79 396.57,1666.47 402.68,1667.16 408.78,1667.87 414.89,1668.59 420.99,1669.33 427.10,1670.10 433.20,1670.89 439.31,1671.70 445.41,1672.54 451.52,1673.41 457.62,1674.30 463.73,1675.23 469.83,1676.18 475.94,1677.16 482.04,1678.17 488.15,1679.21 494.25,1680.27 500.36,1681.36 506.46,1682.46 512.57,1683.58 518.67,1684.72 524.78,1685.88 530.88,1687.04 536.99,1688.22 543.09,1689.42 549.20,1690.62 555.30,1691.82 561.41,1693.04 567.51,1694.26 573.62,1695.49 579.72,1696.73 585.83,1697.97 591.93,1699.21 598.04,1700.46 604.14,1701.71 610.25,1702.96 616.35,1704.22 622.46,1705.48 628.56,1706.74 634.67,1708.01 640.77,1709.27 646.88,1710.54 652.98,1711.81 659.09,1713.08 665.19,1714.36 671.30,1715.63" fill="none" stroke="#cfcfcf" stroke-width="1.5"/>
<polyline points="311.10,1636.91 317.21,1638.16 323.31,1639.41 329.42,1640.66 335.52,1641.90 341.63,1643.14 347.73,1644.37 353.84,1645.60 359.94,1646.82 366.05,1648.03 372.15,1649.24 378.26,1650.44 384.36,1651.62 390.47,1652.80 396.57,1653.96 402.68,1655.12 408.78,1656.25 414.89,1657.37 420.99,1658.47 427.10,1659.54 433.20,1660.60 439.31,1661.63 445.41,1662.63 451.52,1663.60 457.62,1664.55 463.73,1665.46 469.83,1666.35 475.94,1667.21 482.04,1668.04 488.15,1668.85 494.25,1669.63 500.36,1670.39 506.46,1671.12 512.57,1671.84 518.67,1672.54 524.78,1673.23 530.88,1673.91 536.99,1674.57 543.09,1675.22 549.20,1675.86 555.30,1676.49 561.41,1677.12 567.51,1677.74 573.62,1678.35 579.72,1678.96 585.83,1679.56 591.93,1680.16 598.04,1680.75 604.14,1681.34 610.25,1681.93 616.35,1682.51 622.46,1683.09 628.56,1683.67 634.67,1684.25 640.77,1684.83 646.88,1685.40 652.98,1685.97 659.09,1686.54 665.19,1687.11 671.30,1687.68" fill="none" stroke="#222" stroke-width="1.6" stroke-dasharray="4 2.4"/>
<polyline points="311.10,1657.74 317.21,1658.33 323.31,1658.92 329.42,1659.52 335.52,1660.12 341.63,1660.72 347.73,1661.33 353.84,1661.95 359.94,1662.57 366.05,1663.19 372.15,1663.83 378.26,1664.47 384.36,1665.13 390.47,1665.79 396.57,1666.47 402.68,1667.16 408.78,1667.87 414.89,1668.59 420.99,1669.33 427.10,1670.10 433.20,1670.89 439.31,1671.70 445.41,1672.54 451.52,1673.41 457.62,1674.30 463.73,1675.23 469.83,1676.18 475.94,1677.16 482.04,1678.17 488.15,1679.21 494.25,1680.27 500.36,1681.36 506.46,1682.46 512.57,1683.58 518.67,1684.72 524.78,1685.88 530.88,1687.04 536.99,1688.22 543.09,1689.42 549.20,1690.62 555.30,1691.82 561.41,1693.04 567.51,1694.26 573.62,1695.49 579.72,1696.73 585.83,1697.97 591.93,1699.21 598.04,1700.46 604.14,1701.71 610.25,1702.96 616.35,1704.22 622.46,1705.48 628.56,1706.74 634.67,1708.01 640.77,1709.27 646.88,1710.54 652.98,1711.81 659.09,1713.08 665.19,1714.36 671.30,1715.63" fill="none" stroke="#222" stroke-width="1.6" stroke-dasharray="4 2.4"/>
<polyline points="311.10,1647.33 317.21,1648.25 323.31,1649.17 329.42,1650.09 335.52,1651.01 341.63,1651.93 347.73,1652.85 353.84,1653.77 359.94,1654.69 366.05,1655.61 372.15,1656.53 378.26,1657.45 384.36,1658.38 390.47,1659.30 396.57,1660.22 402.68,1661.14 408.78,1662.06 414.89,1662.98 420.99,1663.90 427.10,1664.82 433.20,1665.74 439.31,1666.66 445.41,1667.58 451.52,1668.50 457.62,1669.43 463.73,1670.35 469.83,1671.27 475.94,1672.19 482.04,1673.11 488.15,1674.03 494.25,1674.95 500.36,1675.87 506.46,1676.79 512.57,1677.71 518.67,1678.63 524.78,1679.55 530.88,1680.47 536.99,1681.40 543.09,1682.32 549.20,1683.24 555.30,1684.16 561.41,1685.08 567.51,1686.00 573.62,1686.92 579.72,1687.84 585.83,1688.76 591.93,1689.68 598.04,1690.60 604.14,1691.52 610.25,1692.45 616.35,1693.37 622.46,1694.29 628.56,1695.21 634.67,1696.13 640.77,1697.05 646.88,1697.97 652.98,1698.89 659.09,1699.81 665.19,1700.73 671.30,1701.65" fill="none" stroke="#1a1a1a" stroke-width="1.85"/>
<circle cx="478.10" cy="1675.00" r="4.50" fill="#d90000"/>
<circle cx="515.00" cy="1682.30" r="4.50" fill="#d90000"/>
<circle cx="520.60" cy="1680.00" r="4.50" fill="#d90000"/>
<circle cx="528.30" cy="1686.70" r="4.50" fill="#d90000"/>
<circle cx="537.60" cy="1687.10" r="4.50" fill="#d90000"/>
<circle cx="543.20" cy="1686.70" r="4.50" fill="#d90000"/>
<circle cx="595.10" cy="1684.00" r="4.50" fill="#d90000"/>
<circle cx="600.80" cy="1681.30" r="4.50" fill="#d90000"/>
<circle cx="671.30" cy="1682.70" r="4.50" fill="#d90000"/>
<polygon points="358.20,1658.40 362.70,1667.00 353.70,1667.00" fill="#0000ff"/>
<polygon points="362.50,1664.10 367.00,1672.70 358.00,1672.70" fill="#0000ff"/>
<polygon points="387.00,1669.10 391.50,1677.70 382.50,1677.70" fill="#0000ff"/>
<polygon points="414.60,1665.80 419.10,1674.40 410.10,1674.40" fill="#0000ff"/>
<polygon points="421.20,1662.90 425.70,1671.50 416.70,1671.50" fill="#0000ff"/>
<polygon points="446.20,1674.20 450.70,1682.80 441.70,1682.80" fill="#0000ff"/>
<polygon points="450.20,1678.20 454.70,1686.80 445.70,1686.80" fill="#0000ff"/>
<polygon points="489.40,1662.50 493.90,1671.10 484.90,1671.10" fill="#0000ff"/>
<polygon points="500.30,1667.10 504.80,1675.70 495.80,1675.70" fill="#0000ff"/>
<rect x="425.60" y="1682.70" width="7.40" height="7.40" fill="#4a7f20"/>
<rect x="434.60" y="1679.10" width="7.40" height="7.40" fill="#4a7f20"/>
<rect x="446.50" y="1675.50" width="7.40" height="7.40" fill="#4a7f20"/>
<rect x="454.40" y="1659.00" width="7.40" height="7.40" fill="#4a7f20"/>
<rect x="471.70" y="1678.30" width="7.40" height="7.40" fill="#4a7f20"/>
<rect x="489.30" y="1676.90" width="7.40" height="7.40" fill="#4a7f20"/>
<rect x="493.30" y="1682.80" width="7.40" height="7.40" fill="#4a7f20"/>
<rect x="523.90" y="1681.90" width="7.40" height="7.40" fill="#4a7f20"/>
<polygon points="311.10,1635.30 317.40,1641.80 311.10,1648.30 304.80,1641.80" fill="#f2d32f"/>
<polygon points="344.30,1639.90 350.60,1646.40 344.30,1652.90 338.00,1646.40" fill="#f2d32f"/>
<polygon points="388.30,1609.90 394.60,1616.40 388.30,1622.90 382.00,1616.40" fill="#f2d32f"/>
<polygon points="391.60,1619.50 397.90,1626.00 391.60,1632.50 385.30,1626.00" fill="#f2d32f"/>
<polygon points="392.60,1631.70 398.90,1638.20 392.60,1644.70 386.30,1638.20" fill="#f2d32f"/>
<polygon points="377.80,1648.30 384.10,1654.80 377.80,1661.30 371.50,1654.80" fill="#f2d32f"/>
<polygon points="380.70,1646.30 387.00,1652.80 380.70,1659.30 374.40,1652.80" fill="#f2d32f"/>
<polygon points="457.50,1656.00 463.80,1662.50 457.50,1669.00 451.20,1662.50" fill="#f2d32f"/>
<text transform="translate(31.5,1665.6) rotate(-90)" x="0" y="0" font-size="24" text-anchor="middle" fill="#111" textLength="76.3" lengthAdjust="spacingAndGlyphs" stroke="#111" stroke-width="0.35">AUC0-t</text>
<text transform="translate(59.5,1664.4) rotate(-90)" x="0" y="0" font-size="24" text-anchor="middle" fill="#111" textLength="103.8" lengthAdjust="spacingAndGlyphs" stroke="#111" stroke-width="0.35">(h*ng/mL)</text>
<rect x="1055.75" y="1589.50" width="712.50" height="148.70" fill="none" stroke="#222" stroke-width="1.8" stroke-linejoin="round"/>
<line x1="1043.25" y1="1730.60" x2="1055.75" y2="1730.60" stroke="#222" stroke-width="1.6"/>
<line x1="1048.85" y1="1727.21" x2="1055.75" y2="1727.21" stroke="#000" stroke-width="2.0"/>
<line x1="1048.85" y1="1723.82" x2="1055.75" y2="1723.82" stroke="#000" stroke-width="2.0"/>
<line x1="1048.85" y1="1720.43" x2="1055.75" y2="1720.43" stroke="#000" stroke-width="2.0"/>
<line x1="1048.85" y1="1717.04" x2="1055.75" y2="1717.04" stroke="#000" stroke-width="2.0"/>
<line x1="1048.85" y1="1713.65" x2="1055.75" y2="1713.65" stroke="#000" stroke-width="2.0"/>
<line x1="1048.85" y1="1710.26" x2="1055.75" y2="1710.26" stroke="#000" stroke-width="2.0"/>
<line x1="1048.85" y1="1706.87" x2="1055.75" y2="1706.87" stroke="#000" stroke-width="2.0"/>
<line x1="1048.85" y1="1703.48" x2="1055.75" y2="1703.48" stroke="#000" stroke-width="2.0"/>
<line x1="1048.85" y1="1700.09" x2="1055.75" y2="1700.09" stroke="#000" stroke-width="2.0"/>
<line x1="1043.25" y1="1696.70" x2="1055.75" y2="1696.70" stroke="#222" stroke-width="1.6"/>
<line x1="1048.85" y1="1693.31" x2="1055.75" y2="1693.31" stroke="#000" stroke-width="2.0"/>
<line x1="1048.85" y1="1689.92" x2="1055.75" y2="1689.92" stroke="#000" stroke-width="2.0"/>
<line x1="1048.85" y1="1686.53" x2="1055.75" y2="1686.53" stroke="#000" stroke-width="2.0"/>
<line x1="1048.85" y1="1683.14" x2="1055.75" y2="1683.14" stroke="#000" stroke-width="2.0"/>
<line x1="1048.85" y1="1679.75" x2="1055.75" y2="1679.75" stroke="#000" stroke-width="2.0"/>
<line x1="1048.85" y1="1676.36" x2="1055.75" y2="1676.36" stroke="#000" stroke-width="2.0"/>
<line x1="1048.85" y1="1672.97" x2="1055.75" y2="1672.97" stroke="#000" stroke-width="2.0"/>
<line x1="1048.85" y1="1669.58" x2="1055.75" y2="1669.58" stroke="#000" stroke-width="2.0"/>
<line x1="1048.85" y1="1666.19" x2="1055.75" y2="1666.19" stroke="#000" stroke-width="2.0"/>
<line x1="1043.25" y1="1662.80" x2="1055.75" y2="1662.80" stroke="#222" stroke-width="1.6"/>
<line x1="1048.85" y1="1659.41" x2="1055.75" y2="1659.41" stroke="#000" stroke-width="2.0"/>
<line x1="1048.85" y1="1656.02" x2="1055.75" y2="1656.02" stroke="#000" stroke-width="2.0"/>
<line x1="1048.85" y1="1652.63" x2="1055.75" y2="1652.63" stroke="#000" stroke-width="2.0"/>
<line x1="1048.85" y1="1649.24" x2="1055.75" y2="1649.24" stroke="#000" stroke-width="2.0"/>
<line x1="1048.85" y1="1645.85" x2="1055.75" y2="1645.85" stroke="#000" stroke-width="2.0"/>
<line x1="1048.85" y1="1642.46" x2="1055.75" y2="1642.46" stroke="#000" stroke-width="2.0"/>
<line x1="1048.85" y1="1639.07" x2="1055.75" y2="1639.07" stroke="#000" stroke-width="2.0"/>
<line x1="1048.85" y1="1635.68" x2="1055.75" y2="1635.68" stroke="#000" stroke-width="2.0"/>
<line x1="1048.85" y1="1632.29" x2="1055.75" y2="1632.29" stroke="#000" stroke-width="2.0"/>
<line x1="1043.25" y1="1628.90" x2="1055.75" y2="1628.90" stroke="#222" stroke-width="1.6"/>
<line x1="1048.85" y1="1625.51" x2="1055.75" y2="1625.51" stroke="#000" stroke-width="2.0"/>
<line x1="1048.85" y1="1622.12" x2="1055.75" y2="1622.12" stroke="#000" stroke-width="2.0"/>
<line x1="1048.85" y1="1618.73" x2="1055.75" y2="1618.73" stroke="#000" stroke-width="2.0"/>
<line x1="1048.85" y1="1615.34" x2="1055.75" y2="1615.34" stroke="#000" stroke-width="2.0"/>
<line x1="1048.85" y1="1611.95" x2="1055.75" y2="1611.95" stroke="#000" stroke-width="2.0"/>
<line x1="1048.85" y1="1608.56" x2="1055.75" y2="1608.56" stroke="#000" stroke-width="2.0"/>
<line x1="1048.85" y1="1605.17" x2="1055.75" y2="1605.17" stroke="#000" stroke-width="2.0"/>
<line x1="1048.85" y1="1601.78" x2="1055.75" y2="1601.78" stroke="#000" stroke-width="2.0"/>
<line x1="1048.85" y1="1598.39" x2="1055.75" y2="1598.39" stroke="#000" stroke-width="2.0"/>
<line x1="1043.25" y1="1595.00" x2="1055.75" y2="1595.00" stroke="#222" stroke-width="1.6"/>
<line x1="1043.75" y1="1595.00" x2="1055.75" y2="1595.00" stroke="#222" stroke-width="1.7"/>
<text x="1037.8" y="1604.8" font-size="26" text-anchor="end" fill="#111" textLength="65.1" lengthAdjust="spacingAndGlyphs" stroke="#111" stroke-width="0.35">15000</text>
<line x1="1043.75" y1="1628.90" x2="1055.75" y2="1628.90" stroke="#222" stroke-width="1.7"/>
<text x="1037.8" y="1638.7" font-size="26" text-anchor="end" fill="#111" textLength="65.1" lengthAdjust="spacingAndGlyphs" stroke="#111" stroke-width="0.35">10000</text>
<line x1="1043.75" y1="1662.80" x2="1055.75" y2="1662.80" stroke="#222" stroke-width="1.7"/>
<text x="1037.8" y="1672.6" font-size="26" text-anchor="end" fill="#111" textLength="52.1" lengthAdjust="spacingAndGlyphs" stroke="#111" stroke-width="0.35">5000</text>
<line x1="1043.75" y1="1696.70" x2="1055.75" y2="1696.70" stroke="#222" stroke-width="1.7"/>
<text x="1037.8" y="1706.5" font-size="26" text-anchor="end" fill="#111" textLength="13.0" lengthAdjust="spacingAndGlyphs" stroke="#111" stroke-width="0.35">0</text>
<line x1="1043.75" y1="1730.60" x2="1055.75" y2="1730.60" stroke="#222" stroke-width="1.7"/>
<text x="1037.8" y="1740.4" font-size="26" text-anchor="end" fill="#111" textLength="59.8" lengthAdjust="spacingAndGlyphs" stroke="#111" stroke-width="0.35">-5000</text>
<polyline points="1195.85,1636.91 1201.96,1638.16 1208.06,1639.41 1214.17,1640.66 1220.27,1641.90 1226.38,1643.14 1232.48,1644.37 1238.59,1645.60 1244.69,1646.82 1250.80,1648.03 1256.90,1649.24 1263.01,1650.44 1269.11,1651.62 1275.22,1652.80 1281.32,1653.96 1287.43,1655.12 1293.53,1656.25 1299.64,1657.37 1305.74,1658.47 1311.85,1659.54 1317.95,1660.60 1324.06,1661.63 1330.16,1662.63 1336.27,1663.60 1342.37,1664.55 1348.48,1665.46 1354.58,1666.35 1360.69,1667.21 1366.79,1668.04 1372.90,1668.85 1379.00,1669.63 1385.11,1670.39 1391.21,1671.12 1397.32,1671.84 1403.42,1672.54 1409.53,1673.23 1415.63,1673.91 1421.74,1674.57 1427.84,1675.22 1433.95,1675.86 1440.05,1676.49 1446.16,1677.12 1452.26,1677.74 1458.37,1678.35 1464.47,1678.96 1470.58,1679.56 1476.68,1680.16 1482.79,1680.75 1488.89,1681.34 1495.00,1681.93 1501.10,1682.51 1507.21,1683.09 1513.31,1683.67 1519.42,1684.25 1525.52,1684.83 1531.63,1685.40 1537.73,1685.97 1543.84,1686.54 1549.94,1687.11 1556.05,1687.68" fill="none" stroke="#cfcfcf" stroke-width="1.5"/>
<polyline points="1195.85,1657.74 1201.96,1658.33 1208.06,1658.92 1214.17,1659.52 1220.27,1660.12 1226.38,1660.72 1232.48,1661.33 1238.59,1661.95 1244.69,1662.57 1250.80,1663.19 1256.90,1663.83 1263.01,1664.47 1269.11,1665.13 1275.22,1665.79 1281.32,1666.47 1287.43,1667.16 1293.53,1667.87 1299.64,1668.59 1305.74,1669.33 1311.85,1670.10 1317.95,1670.89 1324.06,1671.70 1330.16,1672.54 1336.27,1673.41 1342.37,1674.30 1348.48,1675.23 1354.58,1676.18 1360.69,1677.16 1366.79,1678.17 1372.90,1679.21 1379.00,1680.27 1385.11,1681.36 1391.21,1682.46 1397.32,1683.58 1403.42,1684.72 1409.53,1685.88 1415.63,1687.04 1421.74,1688.22 1427.84,1689.42 1433.95,1690.62 1440.05,1691.82 1446.16,1693.04 1452.26,1694.26 1458.37,1695.49 1464.47,1696.73 1470.58,1697.97 1476.68,1699.21 1482.79,1700.46 1488.89,1701.71 1495.00,1702.96 1501.10,1704.22 1507.21,1705.48 1513.31,1706.74 1519.42,1708.01 1525.52,1709.27 1531.63,1710.54 1537.73,1711.81 1543.84,1713.08 1549.94,1714.36 1556.05,1715.63" fill="none" stroke="#cfcfcf" stroke-width="1.5"/>
<polyline points="1195.85,1636.91 1201.96,1638.16 1208.06,1639.41 1214.17,1640.66 1220.27,1641.90 1226.38,1643.14 1232.48,1644.37 1238.59,1645.60 1244.69,1646.82 1250.80,1648.03 1256.90,1649.24 1263.01,1650.44 1269.11,1651.62 1275.22,1652.80 1281.32,1653.96 1287.43,1655.12 1293.53,1656.25 1299.64,1657.37 1305.74,1658.47 1311.85,1659.54 1317.95,1660.60 1324.06,1661.63 1330.16,1662.63 1336.27,1663.60 1342.37,1664.55 1348.48,1665.46 1354.58,1666.35 1360.69,1667.21 1366.79,1668.04 1372.90,1668.85 1379.00,1669.63 1385.11,1670.39 1391.21,1671.12 1397.32,1671.84 1403.42,1672.54 1409.53,1673.23 1415.63,1673.91 1421.74,1674.57 1427.84,1675.22 1433.95,1675.86 1440.05,1676.49 1446.16,1677.12 1452.26,1677.74 1458.37,1678.35 1464.47,1678.96 1470.58,1679.56 1476.68,1680.16 1482.79,1680.75 1488.89,1681.34 1495.00,1681.93 1501.10,1682.51 1507.21,1683.09 1513.31,1683.67 1519.42,1684.25 1525.52,1684.83 1531.63,1685.40 1537.73,1685.97 1543.84,1686.54 1549.94,1687.11 1556.05,1687.68" fill="none" stroke="#222" stroke-width="1.6" stroke-dasharray="4 2.4"/>
<polyline points="1195.85,1657.74 1201.96,1658.33 1208.06,1658.92 1214.17,1659.52 1220.27,1660.12 1226.38,1660.72 1232.48,1661.33 1238.59,1661.95 1244.69,1662.57 1250.80,1663.19 1256.90,1663.83 1263.01,1664.47 1269.11,1665.13 1275.22,1665.79 1281.32,1666.47 1287.43,1667.16 1293.53,1667.87 1299.64,1668.59 1305.74,1669.33 1311.85,1670.10 1317.95,1670.89 1324.06,1671.70 1330.16,1672.54 1336.27,1673.41 1342.37,1674.30 1348.48,1675.23 1354.58,1676.18 1360.69,1677.16 1366.79,1678.17 1372.90,1679.21 1379.00,1680.27 1385.11,1681.36 1391.21,1682.46 1397.32,1683.58 1403.42,1684.72 1409.53,1685.88 1415.63,1687.04 1421.74,1688.22 1427.84,1689.42 1433.95,1690.62 1440.05,1691.82 1446.16,1693.04 1452.26,1694.26 1458.37,1695.49 1464.47,1696.73 1470.58,1697.97 1476.68,1699.21 1482.79,1700.46 1488.89,1701.71 1495.00,1702.96 1501.10,1704.22 1507.21,1705.48 1513.31,1706.74 1519.42,1708.01 1525.52,1709.27 1531.63,1710.54 1537.73,1711.81 1543.84,1713.08 1549.94,1714.36 1556.05,1715.63" fill="none" stroke="#222" stroke-width="1.6" stroke-dasharray="4 2.4"/>
<polyline points="1195.85,1647.33 1201.96,1648.25 1208.06,1649.17 1214.17,1650.09 1220.27,1651.01 1226.38,1651.93 1232.48,1652.85 1238.59,1653.77 1244.69,1654.69 1250.80,1655.61 1256.90,1656.53 1263.01,1657.45 1269.11,1658.38 1275.22,1659.30 1281.32,1660.22 1287.43,1661.14 1293.53,1662.06 1299.64,1662.98 1305.74,1663.90 1311.85,1664.82 1317.95,1665.74 1324.06,1666.66 1330.16,1667.58 1336.27,1668.50 1342.37,1669.43 1348.48,1670.35 1354.58,1671.27 1360.69,1672.19 1366.79,1673.11 1372.90,1674.03 1379.00,1674.95 1385.11,1675.87 1391.21,1676.79 1397.32,1677.71 1403.42,1678.63 1409.53,1679.55 1415.63,1680.47 1421.74,1681.40 1427.84,1682.32 1433.95,1683.24 1440.05,1684.16 1446.16,1685.08 1452.26,1686.00 1458.37,1686.92 1464.47,1687.84 1470.58,1688.76 1476.68,1689.68 1482.79,1690.60 1488.89,1691.52 1495.00,1692.45 1501.10,1693.37 1507.21,1694.29 1513.31,1695.21 1519.42,1696.13 1525.52,1697.05 1531.63,1697.97 1537.73,1698.89 1543.84,1699.81 1549.94,1700.73 1556.05,1701.65" fill="none" stroke="#1a1a1a" stroke-width="1.85"/>
<circle cx="1362.85" cy="1675.00" r="4.50" fill="#d90000"/>
<circle cx="1399.75" cy="1682.30" r="4.50" fill="#d90000"/>
<circle cx="1405.35" cy="1680.00" r="4.50" fill="#d90000"/>
<circle cx="1413.05" cy="1686.70" r="4.50" fill="#d90000"/>
<circle cx="1422.35" cy="1687.10" r="4.50" fill="#d90000"/>
<circle cx="1427.95" cy="1686.70" r="4.50" fill="#d90000"/>
<circle cx="1479.85" cy="1684.00" r="4.50" fill="#d90000"/>
<circle cx="1485.55" cy="1681.30" r="4.50" fill="#d90000"/>
<circle cx="1556.05" cy="1682.70" r="4.50" fill="#d90000"/>
<polygon points="1242.95,1658.40 1247.45,1667.00 1238.45,1667.00" fill="#0000ff"/>
<polygon points="1247.25,1664.10 1251.75,1672.70 1242.75,1672.70" fill="#0000ff"/>
<polygon points="1271.75,1669.10 1276.25,1677.70 1267.25,1677.70" fill="#0000ff"/>
<polygon points="1299.35,1665.80 1303.85,1674.40 1294.85,1674.40" fill="#0000ff"/>
<polygon points="1305.95,1662.90 1310.45,1671.50 1301.45,1671.50" fill="#0000ff"/>
<polygon points="1330.95,1674.20 1335.45,1682.80 1326.45,1682.80" fill="#0000ff"/>
<polygon points="1334.95,1678.20 1339.45,1686.80 1330.45,1686.80" fill="#0000ff"/>
<polygon points="1374.15,1662.50 1378.65,1671.10 1369.65,1671.10" fill="#0000ff"/>
<polygon points="1385.05,1667.10 1389.55,1675.70 1380.55,1675.70" fill="#0000ff"/>
<rect x="1310.35" y="1682.70" width="7.40" height="7.40" fill="#4a7f20"/>
<rect x="1319.35" y="1679.10" width="7.40" height="7.40" fill="#4a7f20"/>
<rect x="1331.25" y="1675.50" width="7.40" height="7.40" fill="#4a7f20"/>
<rect x="1339.15" y="1659.00" width="7.40" height="7.40" fill="#4a7f20"/>
<rect x="1356.45" y="1678.30" width="7.40" height="7.40" fill="#4a7f20"/>
<rect x="1374.05" y="1676.90" width="7.40" height="7.40" fill="#4a7f20"/>
<rect x="1378.05" y="1682.80" width="7.40" height="7.40" fill="#4a7f20"/>
<rect x="1408.65" y="1681.90" width="7.40" height="7.40" fill="#4a7f20"/>
<polygon points="1195.85,1635.30 1202.15,1641.80 1195.85,1648.30 1189.55,1641.80" fill="#f2d32f"/>
<polygon points="1229.05,1639.90 1235.35,1646.40 1229.05,1652.90 1222.75,1646.40" fill="#f2d32f"/>
<polygon points="1273.05,1609.90 1279.35,1616.40 1273.05,1622.90 1266.75,1616.40" fill="#f2d32f"/>
<polygon points="1276.35,1619.50 1282.65,1626.00 1276.35,1632.50 1270.05,1626.00" fill="#f2d32f"/>
<polygon points="1277.35,1631.70 1283.65,1638.20 1277.35,1644.70 1271.05,1638.20" fill="#f2d32f"/>
<polygon points="1262.55,1648.30 1268.85,1654.80 1262.55,1661.30 1256.25,1654.80" fill="#f2d32f"/>
<polygon points="1265.45,1646.30 1271.75,1652.80 1265.45,1659.30 1259.15,1652.80" fill="#f2d32f"/>
<polygon points="1342.25,1656.00 1348.55,1662.50 1342.25,1669.00 1335.95,1662.50" fill="#f2d32f"/>
<text transform="translate(916.5,1665.6) rotate(-90)" x="0" y="0" font-size="24" text-anchor="middle" fill="#111" textLength="76.3" lengthAdjust="spacingAndGlyphs" stroke="#111" stroke-width="0.35">AUC0-t</text>
<text transform="translate(944.5,1664.4) rotate(-90)" x="0" y="0" font-size="24" text-anchor="middle" fill="#111" textLength="103.8" lengthAdjust="spacingAndGlyphs" stroke="#111" stroke-width="0.35">(h*ng/mL)</text>
<line x1="209.25" y1="1738.50" x2="209.25" y2="1752.00" stroke="#222" stroke-width="1.7"/>
<text x="208.8" y="1780.3" font-size="19" text-anchor="middle" fill="#222" stroke="#222" stroke-width="0.35">-100</text>
<line x1="336.35" y1="1738.50" x2="336.35" y2="1752.00" stroke="#222" stroke-width="1.7"/>
<text x="335.8" y="1780.3" font-size="19" text-anchor="middle" fill="#222" stroke="#222" stroke-width="0.35">-80</text>
<line x1="463.45" y1="1738.50" x2="463.45" y2="1752.00" stroke="#222" stroke-width="1.7"/>
<text x="462.9" y="1780.3" font-size="19" text-anchor="middle" fill="#222" stroke="#222" stroke-width="0.35">-60</text>
<line x1="590.55" y1="1738.50" x2="590.55" y2="1752.00" stroke="#222" stroke-width="1.7"/>
<text x="590.0" y="1780.3" font-size="19" text-anchor="middle" fill="#222" stroke="#222" stroke-width="0.35">-40</text>
<line x1="717.65" y1="1738.50" x2="717.65" y2="1752.00" stroke="#222" stroke-width="1.7"/>
<text x="717.1" y="1780.3" font-size="19" text-anchor="middle" fill="#222" stroke="#222" stroke-width="0.35">-20</text>
<line x1="844.75" y1="1738.50" x2="844.75" y2="1752.00" stroke="#222" stroke-width="1.7"/>
<text x="844.2" y="1780.3" font-size="19" text-anchor="middle" fill="#222" stroke="#222" stroke-width="0.35">0</text>
<line x1="1094.00" y1="1738.50" x2="1094.00" y2="1752.00" stroke="#222" stroke-width="1.7"/>
<text x="1093.5" y="1780.3" font-size="19" text-anchor="middle" fill="#222" stroke="#222" stroke-width="0.35">-100</text>
<line x1="1221.10" y1="1738.50" x2="1221.10" y2="1752.00" stroke="#222" stroke-width="1.7"/>
<text x="1220.6" y="1780.3" font-size="19" text-anchor="middle" fill="#222" stroke="#222" stroke-width="0.35">-80</text>
<line x1="1348.20" y1="1738.50" x2="1348.20" y2="1752.00" stroke="#222" stroke-width="1.7"/>
<text x="1347.7" y="1780.3" font-size="19" text-anchor="middle" fill="#222" stroke="#222" stroke-width="0.35">-60</text>
<line x1="1475.30" y1="1738.50" x2="1475.30" y2="1752.00" stroke="#222" stroke-width="1.7"/>
<text x="1474.8" y="1780.3" font-size="19" text-anchor="middle" fill="#222" stroke="#222" stroke-width="0.35">-40</text>
<line x1="1602.40" y1="1738.50" x2="1602.40" y2="1752.00" stroke="#222" stroke-width="1.7"/>
<text x="1601.9" y="1780.3" font-size="19" text-anchor="middle" fill="#222" stroke="#222" stroke-width="0.35">-20</text>
<line x1="1729.50" y1="1738.50" x2="1729.50" y2="1752.00" stroke="#222" stroke-width="1.7"/>
<text x="1729.0" y="1780.3" font-size="19" text-anchor="middle" fill="#222" stroke="#222" stroke-width="0.35">0</text>
<text x="214.5" y="1820.0" font-size="23.6" text-anchor="start" fill="#111" textLength="626.0" lengthAdjust="spacingAndGlyphs" stroke="#111" stroke-width="0.35">Percent Change from Baseline in Lymphocyte Count Nadir (%)</text>
<text x="1099.0" y="1820.0" font-size="23.6" text-anchor="start" fill="#111" textLength="627.0" lengthAdjust="spacingAndGlyphs" stroke="#111" stroke-width="0.35">Percent Change from Baseline in Lymphocyte Count Nadir (%)</text>
<circle cx="262.30" cy="1848.70" r="8.70" fill="#d90000"/>
<text x="287.2" y="1857.1" font-size="22.3" text-anchor="start" fill="#111" textLength="197.4" lengthAdjust="spacingAndGlyphs" stroke="#111" stroke-width="0.35">Etrasimod 1 mg (N=9)</text>
<rect x="253.00" y="1870.70" width="16.20" height="16.20" fill="#4a7f20"/>
<text x="287.2" y="1887.6" font-size="22.3" text-anchor="start" fill="#111" textLength="472.0" lengthAdjust="spacingAndGlyphs" stroke="#111" stroke-width="0.35">Etrasimod 2 mg/3 mg Period 1 (Day 1 – Day 7) (N=8)</text>
<polygon points="789.90,1840.15 798.60,1857.85 781.20,1857.85" fill="#0000ff"/>
<text x="814.0" y="1857.1" font-size="22.3" text-anchor="start" fill="#111" textLength="198.0" lengthAdjust="spacingAndGlyphs" stroke="#111" stroke-width="0.35">Etrasimod 2 mg (N=9)</text>
<polygon points="789.90,1867.45 802.80,1880.50 789.90,1893.55 777.00,1880.50" fill="#f2d32f"/>
<text x="814.0" y="1887.6" font-size="22.3" text-anchor="start" fill="#111" textLength="452.0" lengthAdjust="spacingAndGlyphs" stroke="#111" stroke-width="0.35">Etrasimod 2 mg/3 mg Period 2 (Day 8 - End) (N=8)</text>
<line x1="1281.40" y1="1849.00" x2="1375.40" y2="1849.00" stroke="#111" stroke-width="1.8"/>
<text x="1389.0" y="1857.0" font-size="22.3" text-anchor="start" fill="#111" textLength="140.5" lengthAdjust="spacingAndGlyphs" stroke="#111" stroke-width="0.35">Regression Line</text>
<line x1="1281.40" y1="1880.20" x2="1342.70" y2="1880.20" stroke="#111" stroke-width="1.8"/>
<line x1="1345.00" y1="1880.20" x2="1375.40" y2="1880.20" stroke="#111" stroke-width="1.8"/>
<text x="1389.0" y="1888.2" font-size="22.3" text-anchor="start" fill="#111" textLength="66.5" lengthAdjust="spacingAndGlyphs" stroke="#111" stroke-width="0.35">95% CI</text>
</svg>
</body></html>
